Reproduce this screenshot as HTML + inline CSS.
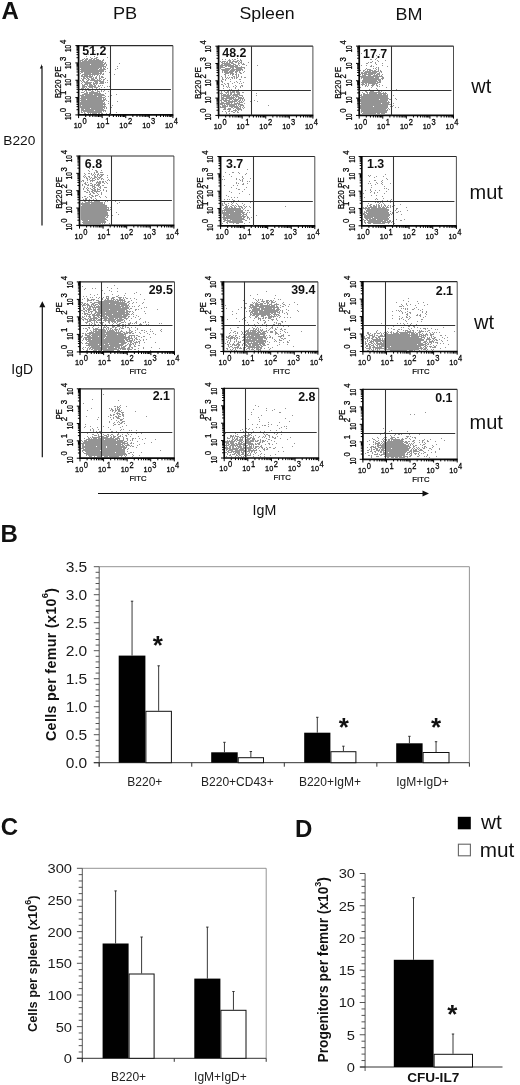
<!DOCTYPE html><html><head><meta charset="utf-8"><title>Figure</title>
<style>html,body{margin:0;padding:0;background:#fff}svg{display:block;opacity:0.999;will-change:transform}text{font-family:"Liberation Sans",sans-serif}</style></head><body>
<svg width="520" height="1085" viewBox="0 0 520 1085">
<defs><filter id="bl" x="-5%" y="-5%" width="110%" height="110%"><feGaussianBlur stdDeviation="0.42"/></filter></defs>
<rect width="520" height="1085" fill="#fff"/>
<text x="1.5" y="19" font-size="24" font-weight="bold" text-anchor="start" fill="#111" >A</text>
<text x="0.5" y="542" font-size="24" font-weight="bold" text-anchor="start" fill="#111" >B</text>
<text x="0.8" y="835" font-size="24" font-weight="bold" text-anchor="start" fill="#111" >C</text>
<text x="295" y="836.8" font-size="24" font-weight="bold" text-anchor="start" fill="#111" >D</text>
<g transform="translate(112.9,18.7) scale(1.05,1)"><text font-size="17.3" fill="#111">PB</text></g>
<g transform="translate(239.5,18.7) scale(1.025,1)"><text font-size="17.3" fill="#111">Spleen</text></g>
<g transform="translate(395.6,20.2) scale(1.04,1)"><text font-size="17.3" fill="#111">BM</text></g>
<text x="471.3" y="92.8" font-size="20" font-weight="normal" text-anchor="start" fill="#111" >wt</text>
<text x="469.5" y="199.2" font-size="20" font-weight="normal" text-anchor="start" fill="#111" >mut</text>
<text x="474" y="328.5" font-size="20" font-weight="normal" text-anchor="start" fill="#111" >wt</text>
<text x="469.5" y="428.5" font-size="20" font-weight="normal" text-anchor="start" fill="#111" >mut</text>
<path d="M42 66V225.4" stroke="#111" stroke-width="1.2"/><path d="M42 64l-2.2 4.5h2.2z" fill="#111"/>
<text x="3.3" y="144.7" font-size="13.7" font-weight="normal" text-anchor="start" fill="#111" >B220</text>
<path d="M42.3 304V457.3" stroke="#111" stroke-width="1.2"/><path d="M42.3 301.2l-3 6h6z" fill="#111"/>
<text x="11.3" y="373.8" font-size="13.9" font-weight="normal" text-anchor="start" fill="#111" >IgD</text>
<path d="M98 493.5H424" stroke="#111" stroke-width="1.2"/><path d="M429 493.5l-6.5-3v6z" fill="#111"/>
<text x="252.6" y="514.5" font-size="14.2" font-weight="normal" text-anchor="start" fill="#111" >IgM</text>
<g>
<g transform="translate(79,46)" filter="url(#bl)"><path d="M10 2h1M15 4h1M13 7h1M21 7h1M9 8h1M18 9h1M7 10h1M15 10h1M11 11h1M17 11h2M28 11h1M5 12h1M7 12h2M12 12h2M15 12h3M31 12h1M3 13h2M6 13h3M10 13h3M14 13h2M17 13h3M24 13h1M1 14h3M5 14h3M9 14h13M23 14h2M1 15h1M3 15h21M1 16h24M26 16h1M1 17h23M25 17h2M40 17h1M1 18h10M12 18h14M27 18h1M1 19h24M27 19h1M1 20h26M38 20h1M1 21h22M24 21h1M26 21h1M2 22h18M21 22h2M24 22h2M28 22h1M38 22h1M1 23h18M20 23h7M36 23h1M2 24h23M1 25h24M26 25h1M2 26h2M5 26h15M21 26h2M30 26h1M1 27h1M5 27h7M13 27h10M24 27h1M3 28h17M21 28h1M23 28h2M35 28h1M2 29h2M5 29h4M10 29h2M13 29h1M15 29h1M18 29h1M20 29h1M31 29h1M2 30h12M17 30h1M20 30h1M22 30h2M4 31h2M7 31h2M10 31h3M14 31h1M16 31h2M20 31h1M22 31h3M2 32h1M4 32h3M8 32h2M12 32h3M16 32h2M20 32h2M26 32h1M3 33h2M7 33h1M9 33h2M12 33h4M18 33h1M20 33h1M22 33h1M24 33h2M1 34h1M3 34h2M8 34h2M11 34h11M24 34h1M28 34h1M2 35h1M4 35h2M7 35h2M15 35h4M20 35h5M3 36h1M5 36h8M14 36h1M16 36h3M21 36h4M26 36h1M28 36h1M2 37h1M6 37h6M14 37h5M20 37h5M3 38h1M5 38h4M10 38h3M14 38h2M17 38h1M3 39h3M8 39h1M10 39h4M15 39h2M19 39h1M21 39h1M23 39h1M3 40h5M9 40h8M19 40h2M28 40h1M30 40h1M3 41h3M7 41h1M10 41h4M15 41h4M22 41h1M25 41h1M2 42h3M6 42h1M8 42h2M13 42h1M17 42h1M20 42h1M5 43h4M10 43h1M12 43h1M15 43h2M3 44h1M6 44h2M9 44h3M13 44h1M16 44h1M18 44h1M22 44h1M25 44h1M5 45h1M7 45h1M12 45h3M18 45h3M22 45h1M24 45h1M29 45h1M2 46h3M7 46h2M10 46h9M20 46h1M5 47h4M10 47h12M26 47h1M3 48h11M15 48h10M37 48h1M1 49h4M6 49h20M32 49h1M2 50h16M19 50h4M26 50h1M29 50h1M2 51h24M1 52h22M24 52h1M26 52h1M2 53h5M8 53h15M24 53h3M1 54h25M27 54h1M2 55h23M29 55h1M38 55h1M1 56h23M25 56h1M1 57h25M29 57h1M1 58h26M1 59h1M3 59h21M25 59h1M33 59h1M1 60h26M1 61h25M27 61h1M32 61h1M2 62h9M12 62h12M25 62h1M27 62h1M2 63h3M6 63h19M2 64h13M16 64h11M2 65h1M4 65h19M24 65h1M26 65h1M31 65h1M2 66h2M5 66h1M8 66h15M37 66h1M5 67h2M9 67h1M11 67h1M13 67h5M19 67h2M22 67h2M27 67h1M30 67h1" stroke="#949494" stroke-width="1" fill="none" transform="translate(0,0.5)"/></g>
<path d="M78.6 45.6H172.9" stroke="#2a2a2a" stroke-width="1.2" fill="none"/>
<path d="M172.9 45.6V114.9" stroke="#3a3a3a" stroke-width="0.9" fill="none"/>
<path d="M78.6 45.0V114.9H173.3" stroke="#0a0a0a" stroke-width="1.7" fill="none"/>
<path d="M110.5 45.6V114.9M78.6 89.5H170.9" stroke="#333" stroke-width="1.05" fill="none"/>
<path d="M78.60 114.9v3.2M85.70 114.9v2.1M89.85 114.9v2.1M92.79 114.9v2.1M95.08 114.9v2.1M96.94 114.9v2.1M98.52 114.9v2.1M99.89 114.9v2.1M101.10 114.9v2.1M102.17 114.9v3.2M109.27 114.9v2.1M113.42 114.9v2.1M116.37 114.9v2.1M118.65 114.9v2.1M120.52 114.9v2.1M122.10 114.9v2.1M123.47 114.9v2.1M124.67 114.9v2.1M125.75 114.9v3.2M132.85 114.9v2.1M137.00 114.9v2.1M139.94 114.9v2.1M142.23 114.9v2.1M144.09 114.9v2.1M145.67 114.9v2.1M147.04 114.9v2.1M148.25 114.9v2.1M149.32 114.9v3.2M156.42 114.9v2.1M160.57 114.9v2.1M163.52 114.9v2.1M165.80 114.9v2.1M167.67 114.9v2.1M169.25 114.9v2.1M170.62 114.9v2.1M171.82 114.9v2.1M172.90 114.9v3.2M78.6 114.90h-3.2M78.6 109.68h-2.1M78.6 106.63h-2.1M78.6 104.47h-2.1M78.6 102.79h-2.1M78.6 101.42h-2.1M78.6 100.26h-2.1M78.6 99.25h-2.1M78.6 98.37h-2.1M78.6 97.58h-3.2M78.6 92.36h-2.1M78.6 89.31h-2.1M78.6 87.14h-2.1M78.6 85.47h-2.1M78.6 84.09h-2.1M78.6 82.93h-2.1M78.6 81.93h-2.1M78.6 81.04h-2.1M78.6 80.25h-3.2M78.6 75.03h-2.1M78.6 71.98h-2.1M78.6 69.82h-2.1M78.6 68.14h-2.1M78.6 66.77h-2.1M78.6 65.61h-2.1M78.6 64.60h-2.1M78.6 63.72h-2.1M78.6 62.92h-3.2M78.6 57.71h-2.1M78.6 54.66h-2.1M78.6 52.49h-2.1M78.6 50.82h-2.1M78.6 49.44h-2.1M78.6 48.28h-2.1M78.6 47.28h-2.1M78.6 46.39h-2.1M78.6 45.60h-3.2" stroke="#000" stroke-width="1" fill="none"/>
<g transform="translate(73.70,128.20) scale(0.92,1)"><text font-size="8" fill="#000" stroke="#000" stroke-width="0.25">10<tspan dy="-3.9" dx="0.6" font-size="8.2">0</tspan></text></g>
<g transform="translate(96.52,128.20) scale(0.92,1)"><text font-size="8" fill="#000" stroke="#000" stroke-width="0.25">10<tspan dy="-3.9" dx="0.6" font-size="8.2">1</tspan></text></g>
<g transform="translate(119.35,128.20) scale(0.92,1)"><text font-size="8" fill="#000" stroke="#000" stroke-width="0.25">10<tspan dy="-3.9" dx="0.6" font-size="8.2">2</tspan></text></g>
<g transform="translate(142.18,128.20) scale(0.92,1)"><text font-size="8" fill="#000" stroke="#000" stroke-width="0.25">10<tspan dy="-3.9" dx="0.6" font-size="8.2">3</tspan></text></g>
<g transform="translate(165.00,128.20) scale(0.92,1)"><text font-size="8" fill="#000" stroke="#000" stroke-width="0.25">10<tspan dy="-3.9" dx="0.6" font-size="8.2">4</tspan></text></g>
<g transform="translate(71.40,120.10) rotate(-90)"><text font-size="8.8" fill="#000" stroke="#000" stroke-width="0.25" transform="scale(0.72,1)">10</text><text x="8.4" y="-5.6" font-size="8.2" fill="#000" stroke="#000" stroke-width="0.25" transform="scale(0.95,1)">0</text></g>
<g transform="translate(71.40,103.05) rotate(-90)"><text font-size="8.8" fill="#000" stroke="#000" stroke-width="0.25" transform="scale(0.72,1)">10</text><text x="8.4" y="-5.6" font-size="8.2" fill="#000" stroke="#000" stroke-width="0.25" transform="scale(0.95,1)">1</text></g>
<g transform="translate(71.40,86.00) rotate(-90)"><text font-size="8.8" fill="#000" stroke="#000" stroke-width="0.25" transform="scale(0.72,1)">10</text><text x="8.4" y="-5.6" font-size="8.2" fill="#000" stroke="#000" stroke-width="0.25" transform="scale(0.95,1)">2</text></g>
<g transform="translate(71.40,68.95) rotate(-90)"><text font-size="8.8" fill="#000" stroke="#000" stroke-width="0.25" transform="scale(0.72,1)">10</text><text x="8.4" y="-5.6" font-size="8.2" fill="#000" stroke="#000" stroke-width="0.25" transform="scale(0.95,1)">3</text></g>
<g transform="translate(71.40,51.90) rotate(-90)"><text font-size="8.8" fill="#000" stroke="#000" stroke-width="0.25" transform="scale(0.72,1)">10</text><text x="8.4" y="-5.6" font-size="8.2" fill="#000" stroke="#000" stroke-width="0.25" transform="scale(0.95,1)">4</text></g>
<g transform="translate(60.80,98.30) rotate(-90) scale(0.9,1)"><text font-size="9" fill="#000" stroke="#000" stroke-width="0.2">B220 PE</text></g>
<text x="82.3" y="55" font-size="12.4" font-weight="bold" fill="#111">51.2</text>
</g>
<g>
<g transform="translate(219,46)" filter="url(#bl)"><path d="M18 12h1M3 13h1M6 13h1M10 13h1M13 13h1M15 13h2M21 13h1M9 14h3M14 14h1M18 14h2M21 14h2M1 15h1M3 15h4M8 15h1M10 15h2M13 15h6M20 15h1M22 15h1M2 16h2M5 16h1M7 16h2M10 16h4M16 16h2M19 16h1M21 16h2M29 16h1M3 17h8M12 17h3M19 17h2M22 17h1M24 17h1M2 18h2M5 18h7M14 18h3M19 18h1M23 18h3M1 19h14M16 19h3M20 19h1M27 19h1M38 19h1M1 20h3M6 20h2M9 20h10M22 20h1M1 21h5M11 21h4M16 21h10M1 22h1M6 22h6M13 22h2M17 22h6M25 22h1M2 23h9M12 23h12M3 24h7M11 24h5M17 24h5M23 24h1M3 25h1M5 25h4M10 25h5M16 25h3M20 25h1M25 25h1M3 26h1M5 26h9M16 26h2M20 26h2M24 26h1M6 27h4M11 27h4M17 27h1M21 27h2M5 28h2M11 28h1M13 28h2M16 28h2M19 28h1M6 29h1M9 29h1M13 29h1M17 29h1M19 29h1M2 30h1M6 30h1M14 30h2M17 30h1M19 30h1M22 30h1M3 31h1M6 31h1M8 31h1M10 31h1M12 31h2M15 31h1M17 31h2M22 31h1M25 31h2M32 31h1M3 32h1M7 32h1M9 32h1M13 32h1M15 32h1M17 32h1M3 33h2M6 33h1M11 33h1M20 33h2M2 34h1M6 34h1M2 35h2M11 35h1M17 35h1M21 35h1M3 36h1M15 36h1M18 36h1M24 36h1M5 37h1M8 37h2M13 37h1M20 37h1M22 37h1M2 38h2M6 38h1M9 38h1M4 39h1M9 39h1M16 39h1M22 39h2M4 40h1M7 40h1M9 40h1M14 40h1M17 40h1M21 40h1M23 40h1M8 41h1M10 41h1M16 41h1M21 41h1M4 42h1M16 42h1M10 43h1M12 43h1M19 43h1M3 44h1M11 44h3M20 44h2M2 45h1M5 45h1M8 45h2M11 45h1M13 45h3M17 45h3M2 46h1M6 46h4M11 46h5M17 46h4M23 46h2M1 47h3M7 47h1M9 47h1M11 47h2M15 47h1M18 47h3M37 47h1M2 48h1M4 48h3M8 48h2M11 48h2M14 48h7M2 49h10M13 49h6M20 49h4M37 49h1M2 50h1M4 50h7M12 50h1M14 50h1M16 50h4M23 50h1M2 51h3M7 51h9M17 51h1M19 51h4M24 51h1M2 52h13M16 52h1M19 52h6M2 53h3M6 53h2M10 53h3M14 53h6M21 53h1M23 53h1M25 53h1M1 54h2M4 54h7M13 54h1M15 54h4M20 54h2M23 54h1M25 54h1M35 54h1M2 55h1M5 55h3M9 55h9M19 55h2M22 55h1M24 55h1M31 55h1M38 55h1M2 56h3M7 56h7M15 56h1M18 56h1M20 56h4M1 57h10M12 57h1M15 57h6M25 57h1M1 58h3M5 58h1M7 58h11M19 58h5M3 59h4M8 59h1M10 59h6M17 59h1M19 59h1M21 59h4M49 59h1M1 60h1M3 60h6M10 60h9M20 60h2M24 60h1M1 61h6M12 61h2M15 61h5M21 61h1M23 61h1M25 61h1M5 62h2M9 62h3M14 62h1M17 62h5M24 62h1M4 63h3M8 63h4M16 63h1M18 63h5M10 64h1M14 64h4M19 64h1M22 64h1M3 65h1M6 65h1M9 65h2M12 65h2M16 65h1M18 65h1M7 66h1M14 66h2M18 66h2M7 67h1M10 67h1" stroke="#949494" stroke-width="1" fill="none" transform="translate(0,0.5)"/></g>
<path d="M218.6 46.2H312.9" stroke="#2a2a2a" stroke-width="1.2" fill="none"/>
<path d="M312.9 46.2V115.4" stroke="#3a3a3a" stroke-width="0.9" fill="none"/>
<path d="M218.6 45.6V115.4H313.29999999999995" stroke="#0a0a0a" stroke-width="1.7" fill="none"/>
<path d="M251.5 46.2V115.4M218.6 90.5H310.9" stroke="#333" stroke-width="1.05" fill="none"/>
<path d="M218.60 115.4v3.2M225.70 115.4v2.1M229.85 115.4v2.1M232.79 115.4v2.1M235.08 115.4v2.1M236.94 115.4v2.1M238.52 115.4v2.1M239.89 115.4v2.1M241.10 115.4v2.1M242.17 115.4v3.2M249.27 115.4v2.1M253.42 115.4v2.1M256.37 115.4v2.1M258.65 115.4v2.1M260.52 115.4v2.1M262.10 115.4v2.1M263.47 115.4v2.1M264.67 115.4v2.1M265.75 115.4v3.2M272.85 115.4v2.1M277.00 115.4v2.1M279.94 115.4v2.1M282.23 115.4v2.1M284.09 115.4v2.1M285.67 115.4v2.1M287.04 115.4v2.1M288.25 115.4v2.1M289.32 115.4v3.2M296.42 115.4v2.1M300.57 115.4v2.1M303.52 115.4v2.1M305.80 115.4v2.1M307.67 115.4v2.1M309.25 115.4v2.1M310.62 115.4v2.1M311.82 115.4v2.1M312.90 115.4v3.2M218.6 115.40h-3.2M218.6 110.19h-2.1M218.6 107.15h-2.1M218.6 104.98h-2.1M218.6 103.31h-2.1M218.6 101.94h-2.1M218.6 100.78h-2.1M218.6 99.78h-2.1M218.6 98.89h-2.1M218.6 98.10h-3.2M218.6 92.89h-2.1M218.6 89.85h-2.1M218.6 87.68h-2.1M218.6 86.01h-2.1M218.6 84.64h-2.1M218.6 83.48h-2.1M218.6 82.48h-2.1M218.6 81.59h-2.1M218.6 80.80h-3.2M218.6 75.59h-2.1M218.6 72.55h-2.1M218.6 70.38h-2.1M218.6 68.71h-2.1M218.6 67.34h-2.1M218.6 66.18h-2.1M218.6 65.18h-2.1M218.6 64.29h-2.1M218.6 63.50h-3.2M218.6 58.29h-2.1M218.6 55.25h-2.1M218.6 53.08h-2.1M218.6 51.41h-2.1M218.6 50.04h-2.1M218.6 48.88h-2.1M218.6 47.88h-2.1M218.6 46.99h-2.1M218.6 46.20h-3.2" stroke="#000" stroke-width="1" fill="none"/>
<g transform="translate(213.70,128.70) scale(0.92,1)"><text font-size="8" fill="#000" stroke="#000" stroke-width="0.25">10<tspan dy="-3.9" dx="0.6" font-size="8.2">0</tspan></text></g>
<g transform="translate(236.52,128.70) scale(0.92,1)"><text font-size="8" fill="#000" stroke="#000" stroke-width="0.25">10<tspan dy="-3.9" dx="0.6" font-size="8.2">1</tspan></text></g>
<g transform="translate(259.35,128.70) scale(0.92,1)"><text font-size="8" fill="#000" stroke="#000" stroke-width="0.25">10<tspan dy="-3.9" dx="0.6" font-size="8.2">2</tspan></text></g>
<g transform="translate(282.17,128.70) scale(0.92,1)"><text font-size="8" fill="#000" stroke="#000" stroke-width="0.25">10<tspan dy="-3.9" dx="0.6" font-size="8.2">3</tspan></text></g>
<g transform="translate(305.00,128.70) scale(0.92,1)"><text font-size="8" fill="#000" stroke="#000" stroke-width="0.25">10<tspan dy="-3.9" dx="0.6" font-size="8.2">4</tspan></text></g>
<g transform="translate(211.40,120.60) rotate(-90)"><text font-size="8.8" fill="#000" stroke="#000" stroke-width="0.25" transform="scale(0.72,1)">10</text><text x="8.4" y="-5.6" font-size="8.2" fill="#000" stroke="#000" stroke-width="0.25" transform="scale(0.95,1)">0</text></g>
<g transform="translate(211.40,103.58) rotate(-90)"><text font-size="8.8" fill="#000" stroke="#000" stroke-width="0.25" transform="scale(0.72,1)">10</text><text x="8.4" y="-5.6" font-size="8.2" fill="#000" stroke="#000" stroke-width="0.25" transform="scale(0.95,1)">1</text></g>
<g transform="translate(211.40,86.55) rotate(-90)"><text font-size="8.8" fill="#000" stroke="#000" stroke-width="0.25" transform="scale(0.72,1)">10</text><text x="8.4" y="-5.6" font-size="8.2" fill="#000" stroke="#000" stroke-width="0.25" transform="scale(0.95,1)">2</text></g>
<g transform="translate(211.40,69.53) rotate(-90)"><text font-size="8.8" fill="#000" stroke="#000" stroke-width="0.25" transform="scale(0.72,1)">10</text><text x="8.4" y="-5.6" font-size="8.2" fill="#000" stroke="#000" stroke-width="0.25" transform="scale(0.95,1)">3</text></g>
<g transform="translate(211.40,52.50) rotate(-90)"><text font-size="8.8" fill="#000" stroke="#000" stroke-width="0.25" transform="scale(0.72,1)">10</text><text x="8.4" y="-5.6" font-size="8.2" fill="#000" stroke="#000" stroke-width="0.25" transform="scale(0.95,1)">4</text></g>
<g transform="translate(200.80,98.90) rotate(-90) scale(0.9,1)"><text font-size="9" fill="#000" stroke="#000" stroke-width="0.2">B220 PE</text></g>
<text x="222.3" y="57.2" font-size="12.4" font-weight="bold" fill="#111">48.2</text>
</g>
<g>
<g transform="translate(359,46)" filter="url(#bl)"><path d="M2 7h1M20 8h1M17 9h1M5 10h1M24 11h1M17 12h1M11 13h2M16 13h1M18 14h1M26 14h1M13 15h1M19 15h1M9 16h1M11 16h2M16 16h1M7 17h2M16 17h1M23 17h1M17 18h1M2 19h1M7 19h1M12 19h1M23 19h1M11 20h2M14 20h1M28 20h1M17 21h1M19 21h1M7 22h1M14 22h1M16 22h1M19 22h1M6 23h1M8 23h4M17 23h1M19 23h1M1 24h1M4 24h2M8 24h1M10 24h4M15 24h2M19 24h1M21 24h1M4 25h1M6 25h6M13 25h7M21 25h2M2 26h2M5 26h13M20 26h1M22 26h1M2 27h6M9 27h8M18 27h3M1 28h1M3 28h1M5 28h9M15 28h1M17 28h4M23 28h1M3 29h4M9 29h3M14 29h5M20 29h1M22 29h1M1 30h23M2 31h13M16 31h4M23 31h2M2 32h1M4 32h16M22 32h3M4 33h18M23 33h1M3 34h15M19 34h3M3 35h16M20 35h2M2 36h15M18 36h4M3 37h2M6 37h2M9 37h10M2 38h4M7 38h1M9 38h1M13 38h3M17 38h1M20 38h1M3 39h1M6 39h2M9 39h1M12 39h3M17 39h2M23 39h1M6 40h1M8 40h1M13 40h1M18 40h1M20 40h1M1 41h1M12 41h1M27 41h1M17 42h1M10 43h1M18 43h1M37 43h1M10 44h4M18 44h2M22 44h1M6 45h2M11 45h4M19 45h2M22 45h1M3 46h1M7 46h2M10 46h12M24 46h1M26 46h1M4 47h2M8 47h1M10 47h8M19 47h9M2 48h1M4 48h19M24 48h3M28 48h1M1 49h2M4 49h25M34 49h1M2 50h27M1 51h28M2 52h28M32 52h1M36 52h1M1 53h19M21 53h8M30 53h2M37 53h1M1 54h28M1 55h27M29 55h1M2 56h29M1 57h21M23 57h7M34 57h1M2 58h30M1 59h28M34 59h1M1 60h13M15 60h14M31 60h1M33 60h1M1 61h28M36 61h1M39 61h1M1 62h27M29 62h1M2 63h25M28 63h1M30 63h1M2 64h27M2 65h26M2 66h1M4 66h24M3 67h14M18 67h3M22 67h4" stroke="#949494" stroke-width="1" fill="none" transform="translate(0,0.5)"/></g>
<path d="M359.2 46.1H453.5" stroke="#2a2a2a" stroke-width="1.2" fill="none"/>
<path d="M453.5 46.1V115.4" stroke="#3a3a3a" stroke-width="0.9" fill="none"/>
<path d="M359.2 45.5V115.4H453.9" stroke="#0a0a0a" stroke-width="1.7" fill="none"/>
<path d="M391.5 46.1V115.4M359.2 90.5H451.5" stroke="#333" stroke-width="1.05" fill="none"/>
<path d="M359.20 115.4v3.2M366.30 115.4v2.1M370.45 115.4v2.1M373.39 115.4v2.1M375.68 115.4v2.1M377.54 115.4v2.1M379.12 115.4v2.1M380.49 115.4v2.1M381.70 115.4v2.1M382.77 115.4v3.2M389.87 115.4v2.1M394.02 115.4v2.1M396.97 115.4v2.1M399.25 115.4v2.1M401.12 115.4v2.1M402.70 115.4v2.1M404.07 115.4v2.1M405.27 115.4v2.1M406.35 115.4v3.2M413.45 115.4v2.1M417.60 115.4v2.1M420.54 115.4v2.1M422.83 115.4v2.1M424.69 115.4v2.1M426.27 115.4v2.1M427.64 115.4v2.1M428.85 115.4v2.1M429.93 115.4v3.2M437.02 115.4v2.1M441.17 115.4v2.1M444.12 115.4v2.1M446.40 115.4v2.1M448.27 115.4v2.1M449.85 115.4v2.1M451.22 115.4v2.1M452.42 115.4v2.1M453.50 115.4v3.2M359.2 115.40h-3.2M359.2 110.18h-2.1M359.2 107.13h-2.1M359.2 104.97h-2.1M359.2 103.29h-2.1M359.2 101.92h-2.1M359.2 100.76h-2.1M359.2 99.75h-2.1M359.2 98.87h-2.1M359.2 98.08h-3.2M359.2 92.86h-2.1M359.2 89.81h-2.1M359.2 87.64h-2.1M359.2 85.97h-2.1M359.2 84.59h-2.1M359.2 83.43h-2.1M359.2 82.43h-2.1M359.2 81.54h-2.1M359.2 80.75h-3.2M359.2 75.53h-2.1M359.2 72.48h-2.1M359.2 70.32h-2.1M359.2 68.64h-2.1M359.2 67.27h-2.1M359.2 66.11h-2.1M359.2 65.10h-2.1M359.2 64.22h-2.1M359.2 63.42h-3.2M359.2 58.21h-2.1M359.2 55.16h-2.1M359.2 52.99h-2.1M359.2 51.32h-2.1M359.2 49.94h-2.1M359.2 48.78h-2.1M359.2 47.78h-2.1M359.2 46.89h-2.1M359.2 46.10h-3.2" stroke="#000" stroke-width="1" fill="none"/>
<g transform="translate(354.30,128.70) scale(0.92,1)"><text font-size="8" fill="#000" stroke="#000" stroke-width="0.25">10<tspan dy="-3.9" dx="0.6" font-size="8.2">0</tspan></text></g>
<g transform="translate(377.12,128.70) scale(0.92,1)"><text font-size="8" fill="#000" stroke="#000" stroke-width="0.25">10<tspan dy="-3.9" dx="0.6" font-size="8.2">1</tspan></text></g>
<g transform="translate(399.95,128.70) scale(0.92,1)"><text font-size="8" fill="#000" stroke="#000" stroke-width="0.25">10<tspan dy="-3.9" dx="0.6" font-size="8.2">2</tspan></text></g>
<g transform="translate(422.78,128.70) scale(0.92,1)"><text font-size="8" fill="#000" stroke="#000" stroke-width="0.25">10<tspan dy="-3.9" dx="0.6" font-size="8.2">3</tspan></text></g>
<g transform="translate(445.60,128.70) scale(0.92,1)"><text font-size="8" fill="#000" stroke="#000" stroke-width="0.25">10<tspan dy="-3.9" dx="0.6" font-size="8.2">4</tspan></text></g>
<g transform="translate(352.00,120.60) rotate(-90)"><text font-size="8.8" fill="#000" stroke="#000" stroke-width="0.25" transform="scale(0.72,1)">10</text><text x="8.4" y="-5.6" font-size="8.2" fill="#000" stroke="#000" stroke-width="0.25" transform="scale(0.95,1)">0</text></g>
<g transform="translate(352.00,103.55) rotate(-90)"><text font-size="8.8" fill="#000" stroke="#000" stroke-width="0.25" transform="scale(0.72,1)">10</text><text x="8.4" y="-5.6" font-size="8.2" fill="#000" stroke="#000" stroke-width="0.25" transform="scale(0.95,1)">1</text></g>
<g transform="translate(352.00,86.50) rotate(-90)"><text font-size="8.8" fill="#000" stroke="#000" stroke-width="0.25" transform="scale(0.72,1)">10</text><text x="8.4" y="-5.6" font-size="8.2" fill="#000" stroke="#000" stroke-width="0.25" transform="scale(0.95,1)">2</text></g>
<g transform="translate(352.00,69.45) rotate(-90)"><text font-size="8.8" fill="#000" stroke="#000" stroke-width="0.25" transform="scale(0.72,1)">10</text><text x="8.4" y="-5.6" font-size="8.2" fill="#000" stroke="#000" stroke-width="0.25" transform="scale(0.95,1)">3</text></g>
<g transform="translate(352.00,52.40) rotate(-90)"><text font-size="8.8" fill="#000" stroke="#000" stroke-width="0.25" transform="scale(0.72,1)">10</text><text x="8.4" y="-5.6" font-size="8.2" fill="#000" stroke="#000" stroke-width="0.25" transform="scale(0.95,1)">4</text></g>
<g transform="translate(341.40,98.80) rotate(-90) scale(0.9,1)"><text font-size="9" fill="#000" stroke="#000" stroke-width="0.2">B220 PE</text></g>
<text x="363" y="57.6" font-size="12.4" font-weight="bold" fill="#111">17.7</text>
</g>
<g>
<g transform="translate(80,156)" filter="url(#bl)"><path d="M9 12h1M12 13h1M8 14h1M15 14h2M21 14h1M9 15h1M16 15h2M14 16h1M16 16h2M20 16h3M4 17h1M8 17h2M11 17h1M14 17h1M18 17h1M5 18h1M11 18h1M13 18h1M15 18h1M17 18h2M20 18h4M4 19h1M12 19h1M14 19h1M17 19h1M19 19h1M21 19h2M27 19h1M3 20h1M5 20h1M8 20h2M14 20h2M17 20h1M20 20h2M4 21h1M6 21h1M9 21h1M11 21h1M14 21h3M18 21h3M27 21h1M6 22h2M10 22h1M12 22h3M17 22h1M19 22h1M21 22h2M7 23h1M9 23h1M12 23h1M15 23h1M17 23h2M21 23h1M23 23h1M28 23h1M2 24h2M7 24h1M10 24h5M27 24h1M29 24h1M1 25h1M3 25h1M10 25h1M12 25h1M17 25h1M19 25h2M22 25h2M25 25h1M5 26h1M7 26h1M16 26h5M22 26h2M26 26h1M4 27h2M10 27h2M16 27h1M18 27h3M24 27h1M27 27h1M2 28h1M5 28h2M8 28h1M12 28h1M14 28h2M17 28h3M31 28h1M2 29h1M7 29h2M10 29h3M14 29h1M16 29h4M22 29h2M4 30h1M12 30h3M18 30h1M20 30h1M4 31h1M7 31h1M12 31h1M14 31h2M19 31h2M24 31h3M3 32h1M6 32h1M8 32h1M10 32h1M13 32h2M17 32h1M20 32h1M3 33h1M7 33h1M11 33h2M14 33h2M17 33h3M23 33h1M7 34h2M12 34h4M17 34h1M20 34h1M23 34h1M26 34h1M4 35h2M9 35h1M11 35h2M14 35h6M26 35h1M6 36h2M9 36h1M12 36h2M16 36h1M21 36h1M10 37h1M13 37h2M17 37h1M21 37h1M9 38h2M18 38h1M21 38h1M11 39h2M15 39h3M4 40h2M9 40h1M12 40h2M15 40h1M19 40h1M25 40h1M2 41h1M7 41h1M10 41h2M20 41h1M26 41h1M5 42h2M11 42h1M15 42h1M3 43h1M5 43h2M9 43h1M13 43h1M16 43h1M7 44h1M10 44h1M15 44h4M29 44h1M4 45h2M8 45h2M11 45h1M14 45h6M25 45h1M27 45h1M35 45h1M2 46h1M5 46h18M24 46h1M39 46h1M1 47h9M11 47h12M24 47h1M37 47h1M1 48h24M2 49h25M1 50h26M1 51h28M30 51h1M1 52h26M28 52h1M1 53h28M30 53h1M1 54h29M1 55h26M1 56h27M36 56h1M1 57h27M1 58h27M38 58h1M1 59h28M32 59h1M1 60h25M27 60h1M1 61h24M26 61h2M1 62h25M1 63h26M2 64h6M9 64h16M27 64h1M3 65h23M2 66h24M3 67h18M22 67h1M24 67h1M29 67h1" stroke="#949494" stroke-width="1" fill="none" transform="translate(0,0.5)"/></g>
<path d="M79.5 156H173.9" stroke="#2a2a2a" stroke-width="1.2" fill="none"/>
<path d="M173.9 156V225.4" stroke="#3a3a3a" stroke-width="0.9" fill="none"/>
<path d="M79.5 155.4V225.4H174.3" stroke="#0a0a0a" stroke-width="1.7" fill="none"/>
<path d="M111.5 156V225.4M79.5 200.5H171.9" stroke="#333" stroke-width="1.05" fill="none"/>
<path d="M79.50 225.4v3.2M86.60 225.4v2.1M90.76 225.4v2.1M93.71 225.4v2.1M96.00 225.4v2.1M97.86 225.4v2.1M99.44 225.4v2.1M100.81 225.4v2.1M102.02 225.4v2.1M103.10 225.4v3.2M110.20 225.4v2.1M114.36 225.4v2.1M117.31 225.4v2.1M119.60 225.4v2.1M121.46 225.4v2.1M123.04 225.4v2.1M124.41 225.4v2.1M125.62 225.4v2.1M126.70 225.4v3.2M133.80 225.4v2.1M137.96 225.4v2.1M140.91 225.4v2.1M143.20 225.4v2.1M145.06 225.4v2.1M146.64 225.4v2.1M148.01 225.4v2.1M149.22 225.4v2.1M150.30 225.4v3.2M157.40 225.4v2.1M161.56 225.4v2.1M164.51 225.4v2.1M166.80 225.4v2.1M168.66 225.4v2.1M170.24 225.4v2.1M171.61 225.4v2.1M172.82 225.4v2.1M173.90 225.4v3.2M79.5 225.40h-3.2M79.5 220.18h-2.1M79.5 217.12h-2.1M79.5 214.95h-2.1M79.5 213.27h-2.1M79.5 211.90h-2.1M79.5 210.74h-2.1M79.5 209.73h-2.1M79.5 208.84h-2.1M79.5 208.05h-3.2M79.5 202.83h-2.1M79.5 199.77h-2.1M79.5 197.60h-2.1M79.5 195.92h-2.1M79.5 194.55h-2.1M79.5 193.39h-2.1M79.5 192.38h-2.1M79.5 191.49h-2.1M79.5 190.70h-3.2M79.5 185.48h-2.1M79.5 182.42h-2.1M79.5 180.25h-2.1M79.5 178.57h-2.1M79.5 177.20h-2.1M79.5 176.04h-2.1M79.5 175.03h-2.1M79.5 174.14h-2.1M79.5 173.35h-3.2M79.5 168.13h-2.1M79.5 165.07h-2.1M79.5 162.90h-2.1M79.5 161.22h-2.1M79.5 159.85h-2.1M79.5 158.69h-2.1M79.5 157.68h-2.1M79.5 156.79h-2.1M79.5 156.00h-3.2" stroke="#000" stroke-width="1" fill="none"/>
<g transform="translate(74.60,238.70) scale(0.92,1)"><text font-size="8" fill="#000" stroke="#000" stroke-width="0.25">10<tspan dy="-3.9" dx="0.6" font-size="8.2">0</tspan></text></g>
<g transform="translate(97.45,238.70) scale(0.92,1)"><text font-size="8" fill="#000" stroke="#000" stroke-width="0.25">10<tspan dy="-3.9" dx="0.6" font-size="8.2">1</tspan></text></g>
<g transform="translate(120.30,238.70) scale(0.92,1)"><text font-size="8" fill="#000" stroke="#000" stroke-width="0.25">10<tspan dy="-3.9" dx="0.6" font-size="8.2">2</tspan></text></g>
<g transform="translate(143.15,238.70) scale(0.92,1)"><text font-size="8" fill="#000" stroke="#000" stroke-width="0.25">10<tspan dy="-3.9" dx="0.6" font-size="8.2">3</tspan></text></g>
<g transform="translate(166.00,238.70) scale(0.92,1)"><text font-size="8" fill="#000" stroke="#000" stroke-width="0.25">10<tspan dy="-3.9" dx="0.6" font-size="8.2">4</tspan></text></g>
<g transform="translate(72.30,230.60) rotate(-90)"><text font-size="8.8" fill="#000" stroke="#000" stroke-width="0.25" transform="scale(0.72,1)">10</text><text x="8.4" y="-5.6" font-size="8.2" fill="#000" stroke="#000" stroke-width="0.25" transform="scale(0.95,1)">0</text></g>
<g transform="translate(72.30,213.52) rotate(-90)"><text font-size="8.8" fill="#000" stroke="#000" stroke-width="0.25" transform="scale(0.72,1)">10</text><text x="8.4" y="-5.6" font-size="8.2" fill="#000" stroke="#000" stroke-width="0.25" transform="scale(0.95,1)">1</text></g>
<g transform="translate(72.30,196.45) rotate(-90)"><text font-size="8.8" fill="#000" stroke="#000" stroke-width="0.25" transform="scale(0.72,1)">10</text><text x="8.4" y="-5.6" font-size="8.2" fill="#000" stroke="#000" stroke-width="0.25" transform="scale(0.95,1)">2</text></g>
<g transform="translate(72.30,179.38) rotate(-90)"><text font-size="8.8" fill="#000" stroke="#000" stroke-width="0.25" transform="scale(0.72,1)">10</text><text x="8.4" y="-5.6" font-size="8.2" fill="#000" stroke="#000" stroke-width="0.25" transform="scale(0.95,1)">3</text></g>
<g transform="translate(72.30,162.30) rotate(-90)"><text font-size="8.8" fill="#000" stroke="#000" stroke-width="0.25" transform="scale(0.72,1)">10</text><text x="8.4" y="-5.6" font-size="8.2" fill="#000" stroke="#000" stroke-width="0.25" transform="scale(0.95,1)">4</text></g>
<g transform="translate(61.70,208.70) rotate(-90) scale(0.9,1)"><text font-size="9" fill="#000" stroke="#000" stroke-width="0.2">B220 PE</text></g>
<text x="84.8" y="167.6" font-size="12.4" font-weight="bold" fill="#111">6.8</text>
</g>
<g>
<g transform="translate(221,156)" filter="url(#bl)"><path d="M26 13h1M4 16h1M11 16h2M17 16h1M18 17h1M25 17h1M8 18h1M24 18h1M2 20h1M10 20h1M21 20h1M21 21h1M15 22h1M22 22h1M29 22h1M1 23h1M3 23h1M15 23h1M18 23h1M21 23h1M19 24h1M21 24h1M21 25h1M26 25h1M28 25h1M15 26h1M15 27h1M17 27h1M22 27h1M26 27h1M21 28h2M3 29h1M12 29h1M16 29h1M10 31h1M25 31h1M15 32h1M17 33h2M23 33h1M8 35h1M21 35h1M10 36h1M18 37h1M28 38h1M5 39h1M7 40h1M10 41h1M13 41h1M16 41h1M3 43h1M6 43h1M8 43h1M11 43h1M12 44h2M17 44h1M6 45h1M12 45h1M3 46h1M10 46h1M12 46h1M29 46h1M1 47h1M3 47h1M7 47h1M11 47h1M15 47h1M21 47h1M1 48h1M4 48h2M10 48h1M16 48h1M23 48h1M1 49h2M5 49h1M7 49h1M11 49h2M14 49h1M17 49h1M22 49h1M4 50h3M9 50h2M13 50h1M15 50h1M17 50h4M23 50h1M25 50h1M28 50h1M64 50h1M3 51h4M8 51h1M10 51h2M13 51h2M18 51h1M20 51h2M24 51h1M29 51h1M2 52h1M4 52h16M21 52h1M23 52h1M3 53h17M22 53h1M1 54h21M24 54h1M26 54h2M1 55h1M3 55h1M5 55h8M14 55h8M32 55h1M1 56h23M26 56h1M28 56h1M1 57h19M21 57h2M25 57h1M2 58h6M9 58h12M22 58h4M2 59h18M21 59h2M25 59h1M35 59h1M2 60h2M5 60h20M26 60h1M1 61h20M22 61h2M26 61h2M30 61h1M2 62h21M26 62h1M28 62h1M32 62h1M2 63h3M6 63h1M9 63h15M28 63h1M3 64h7M11 64h10M24 64h2M2 65h2M6 65h16M5 66h2M8 66h14M28 66h1M1 67h1M6 67h1M12 67h1M15 67h3M23 67h1" stroke="#949494" stroke-width="1" fill="none" transform="translate(0,0.5)"/></g>
<path d="M220.6 156.5H314.8" stroke="#2a2a2a" stroke-width="1.2" fill="none"/>
<path d="M314.8 156.5V225.9" stroke="#3a3a3a" stroke-width="0.9" fill="none"/>
<path d="M220.6 155.9V225.9H315.2" stroke="#0a0a0a" stroke-width="1.7" fill="none"/>
<path d="M253.5 156.5V225.9M220.6 201.5H312.8" stroke="#333" stroke-width="1.05" fill="none"/>
<path d="M220.60 225.9v3.2M227.69 225.9v2.1M231.84 225.9v2.1M234.78 225.9v2.1M237.06 225.9v2.1M238.93 225.9v2.1M240.50 225.9v2.1M241.87 225.9v2.1M243.07 225.9v2.1M244.15 225.9v3.2M251.24 225.9v2.1M255.39 225.9v2.1M258.33 225.9v2.1M260.61 225.9v2.1M262.48 225.9v2.1M264.05 225.9v2.1M265.42 225.9v2.1M266.62 225.9v2.1M267.70 225.9v3.2M274.79 225.9v2.1M278.94 225.9v2.1M281.88 225.9v2.1M284.16 225.9v2.1M286.03 225.9v2.1M287.60 225.9v2.1M288.97 225.9v2.1M290.17 225.9v2.1M291.25 225.9v3.2M298.34 225.9v2.1M302.49 225.9v2.1M305.43 225.9v2.1M307.71 225.9v2.1M309.58 225.9v2.1M311.15 225.9v2.1M312.52 225.9v2.1M313.72 225.9v2.1M314.80 225.9v3.2M220.6 225.90h-3.2M220.6 220.68h-2.1M220.6 217.62h-2.1M220.6 215.45h-2.1M220.6 213.77h-2.1M220.6 212.40h-2.1M220.6 211.24h-2.1M220.6 210.23h-2.1M220.6 209.34h-2.1M220.6 208.55h-3.2M220.6 203.33h-2.1M220.6 200.27h-2.1M220.6 198.10h-2.1M220.6 196.42h-2.1M220.6 195.05h-2.1M220.6 193.89h-2.1M220.6 192.88h-2.1M220.6 191.99h-2.1M220.6 191.20h-3.2M220.6 185.98h-2.1M220.6 182.92h-2.1M220.6 180.75h-2.1M220.6 179.07h-2.1M220.6 177.70h-2.1M220.6 176.54h-2.1M220.6 175.53h-2.1M220.6 174.64h-2.1M220.6 173.85h-3.2M220.6 168.63h-2.1M220.6 165.57h-2.1M220.6 163.40h-2.1M220.6 161.72h-2.1M220.6 160.35h-2.1M220.6 159.19h-2.1M220.6 158.18h-2.1M220.6 157.29h-2.1M220.6 156.50h-3.2" stroke="#000" stroke-width="1" fill="none"/>
<g transform="translate(215.70,239.20) scale(0.92,1)"><text font-size="8" fill="#000" stroke="#000" stroke-width="0.25">10<tspan dy="-3.9" dx="0.6" font-size="8.2">0</tspan></text></g>
<g transform="translate(238.50,239.20) scale(0.92,1)"><text font-size="8" fill="#000" stroke="#000" stroke-width="0.25">10<tspan dy="-3.9" dx="0.6" font-size="8.2">1</tspan></text></g>
<g transform="translate(261.30,239.20) scale(0.92,1)"><text font-size="8" fill="#000" stroke="#000" stroke-width="0.25">10<tspan dy="-3.9" dx="0.6" font-size="8.2">2</tspan></text></g>
<g transform="translate(284.10,239.20) scale(0.92,1)"><text font-size="8" fill="#000" stroke="#000" stroke-width="0.25">10<tspan dy="-3.9" dx="0.6" font-size="8.2">3</tspan></text></g>
<g transform="translate(306.90,239.20) scale(0.92,1)"><text font-size="8" fill="#000" stroke="#000" stroke-width="0.25">10<tspan dy="-3.9" dx="0.6" font-size="8.2">4</tspan></text></g>
<g transform="translate(213.40,231.10) rotate(-90)"><text font-size="8.8" fill="#000" stroke="#000" stroke-width="0.25" transform="scale(0.72,1)">10</text><text x="8.4" y="-5.6" font-size="8.2" fill="#000" stroke="#000" stroke-width="0.25" transform="scale(0.95,1)">0</text></g>
<g transform="translate(213.40,214.02) rotate(-90)"><text font-size="8.8" fill="#000" stroke="#000" stroke-width="0.25" transform="scale(0.72,1)">10</text><text x="8.4" y="-5.6" font-size="8.2" fill="#000" stroke="#000" stroke-width="0.25" transform="scale(0.95,1)">1</text></g>
<g transform="translate(213.40,196.95) rotate(-90)"><text font-size="8.8" fill="#000" stroke="#000" stroke-width="0.25" transform="scale(0.72,1)">10</text><text x="8.4" y="-5.6" font-size="8.2" fill="#000" stroke="#000" stroke-width="0.25" transform="scale(0.95,1)">2</text></g>
<g transform="translate(213.40,179.88) rotate(-90)"><text font-size="8.8" fill="#000" stroke="#000" stroke-width="0.25" transform="scale(0.72,1)">10</text><text x="8.4" y="-5.6" font-size="8.2" fill="#000" stroke="#000" stroke-width="0.25" transform="scale(0.95,1)">3</text></g>
<g transform="translate(213.40,162.80) rotate(-90)"><text font-size="8.8" fill="#000" stroke="#000" stroke-width="0.25" transform="scale(0.72,1)">10</text><text x="8.4" y="-5.6" font-size="8.2" fill="#000" stroke="#000" stroke-width="0.25" transform="scale(0.95,1)">4</text></g>
<g transform="translate(202.80,209.20) rotate(-90) scale(0.9,1)"><text font-size="9" fill="#000" stroke="#000" stroke-width="0.2">B220 PE</text></g>
<text x="226" y="168.2" font-size="12.4" font-weight="bold" fill="#111">3.7</text>
</g>
<g>
<g transform="translate(362,156)" filter="url(#bl)"><path d="M23 18h1M6 19h1M8 19h1M7 20h1M14 20h1M21 20h1M12 21h1M24 22h1M25 23h1M12 24h2M20 24h1M7 25h1M19 25h1M14 26h1M20 26h1M6 27h1M8 27h1M15 27h1M19 27h1M28 27h1M13 28h1M20 28h1M9 29h1M22 30h1M9 31h1M22 32h1M24 32h1M8 33h1M26 33h1M3 34h1M8 34h1M13 34h1M17 34h1M9 35h1M24 35h1M8 36h1M12 36h1M15 36h1M1 37h1M12 37h1M22 37h1M9 39h1M14 39h1M20 40h1M2 41h1M14 42h1M21 42h1M13 43h1M15 43h1M29 43h1M20 44h1M25 44h1M28 44h1M2 45h2M10 45h1M14 45h1M21 45h1M28 45h1M31 45h1M13 46h1M15 46h2M18 46h1M20 46h1M28 46h1M6 47h1M17 47h1M21 47h1M8 48h2M14 48h1M16 48h1M19 48h1M22 48h1M38 48h1M5 49h1M7 49h2M11 49h2M14 49h1M16 49h2M19 49h1M22 49h2M26 49h1M28 49h1M32 49h1M5 50h1M8 50h2M11 50h4M16 50h2M19 50h1M21 50h1M23 50h1M25 50h1M28 50h1M30 50h1M1 51h1M3 51h2M6 51h9M16 51h3M20 51h3M24 51h3M28 51h1M31 51h1M44 51h1M1 52h7M9 52h16M34 52h2M3 53h1M5 53h22M34 53h1M4 54h23M33 54h1M45 54h1M2 55h1M4 55h22M28 55h1M31 55h1M36 55h1M38 55h1M2 56h3M6 56h21M30 56h1M34 56h2M1 57h2M4 57h23M28 57h1M30 57h1M1 58h3M5 58h23M29 58h1M31 58h1M39 58h1M2 59h26M2 60h25M2 61h9M12 61h14M27 61h1M3 62h6M10 62h17M1 63h1M4 63h2M7 63h7M15 63h12M31 63h1M34 63h1M42 63h1M2 64h2M5 64h16M22 64h4M27 64h2M38 64h2M2 65h1M6 65h18M25 65h4M30 65h1M2 66h2M5 66h14M20 66h8M29 66h1M3 67h1M6 67h3M11 67h12M26 67h1M32 67h1" stroke="#949494" stroke-width="1" fill="none" transform="translate(0,0.5)"/></g>
<path d="M361.8 156.5H456.4" stroke="#2a2a2a" stroke-width="1.2" fill="none"/>
<path d="M456.4 156.5V225.8" stroke="#3a3a3a" stroke-width="0.9" fill="none"/>
<path d="M361.8 155.9V225.8H456.79999999999995" stroke="#0a0a0a" stroke-width="1.7" fill="none"/>
<path d="M393.5 156.5V225.8M361.8 201.5H454.4" stroke="#333" stroke-width="1.05" fill="none"/>
<path d="M361.80 225.8v3.2M368.92 225.8v2.1M373.08 225.8v2.1M376.04 225.8v2.1M378.33 225.8v2.1M380.20 225.8v2.1M381.79 225.8v2.1M383.16 225.8v2.1M384.37 225.8v2.1M385.45 225.8v3.2M392.57 225.8v2.1M396.73 225.8v2.1M399.69 225.8v2.1M401.98 225.8v2.1M403.85 225.8v2.1M405.44 225.8v2.1M406.81 225.8v2.1M408.02 225.8v2.1M409.10 225.8v3.2M416.22 225.8v2.1M420.38 225.8v2.1M423.34 225.8v2.1M425.63 225.8v2.1M427.50 225.8v2.1M429.09 225.8v2.1M430.46 225.8v2.1M431.67 225.8v2.1M432.75 225.8v3.2M439.87 225.8v2.1M444.03 225.8v2.1M446.99 225.8v2.1M449.28 225.8v2.1M451.15 225.8v2.1M452.74 225.8v2.1M454.11 225.8v2.1M455.32 225.8v2.1M456.40 225.8v3.2M361.8 225.80h-3.2M361.8 220.58h-2.1M361.8 217.53h-2.1M361.8 215.37h-2.1M361.8 213.69h-2.1M361.8 212.32h-2.1M361.8 211.16h-2.1M361.8 210.15h-2.1M361.8 209.27h-2.1M361.8 208.48h-3.2M361.8 203.26h-2.1M361.8 200.21h-2.1M361.8 198.04h-2.1M361.8 196.37h-2.1M361.8 194.99h-2.1M361.8 193.83h-2.1M361.8 192.83h-2.1M361.8 191.94h-2.1M361.8 191.15h-3.2M361.8 185.93h-2.1M361.8 182.88h-2.1M361.8 180.72h-2.1M361.8 179.04h-2.1M361.8 177.67h-2.1M361.8 176.51h-2.1M361.8 175.50h-2.1M361.8 174.62h-2.1M361.8 173.82h-3.2M361.8 168.61h-2.1M361.8 165.56h-2.1M361.8 163.39h-2.1M361.8 161.72h-2.1M361.8 160.34h-2.1M361.8 159.18h-2.1M361.8 158.18h-2.1M361.8 157.29h-2.1M361.8 156.50h-3.2" stroke="#000" stroke-width="1" fill="none"/>
<g transform="translate(356.90,239.10) scale(0.92,1)"><text font-size="8" fill="#000" stroke="#000" stroke-width="0.25">10<tspan dy="-3.9" dx="0.6" font-size="8.2">0</tspan></text></g>
<g transform="translate(379.80,239.10) scale(0.92,1)"><text font-size="8" fill="#000" stroke="#000" stroke-width="0.25">10<tspan dy="-3.9" dx="0.6" font-size="8.2">1</tspan></text></g>
<g transform="translate(402.70,239.10) scale(0.92,1)"><text font-size="8" fill="#000" stroke="#000" stroke-width="0.25">10<tspan dy="-3.9" dx="0.6" font-size="8.2">2</tspan></text></g>
<g transform="translate(425.60,239.10) scale(0.92,1)"><text font-size="8" fill="#000" stroke="#000" stroke-width="0.25">10<tspan dy="-3.9" dx="0.6" font-size="8.2">3</tspan></text></g>
<g transform="translate(448.50,239.10) scale(0.92,1)"><text font-size="8" fill="#000" stroke="#000" stroke-width="0.25">10<tspan dy="-3.9" dx="0.6" font-size="8.2">4</tspan></text></g>
<g transform="translate(354.60,231.00) rotate(-90)"><text font-size="8.8" fill="#000" stroke="#000" stroke-width="0.25" transform="scale(0.72,1)">10</text><text x="8.4" y="-5.6" font-size="8.2" fill="#000" stroke="#000" stroke-width="0.25" transform="scale(0.95,1)">0</text></g>
<g transform="translate(354.60,213.95) rotate(-90)"><text font-size="8.8" fill="#000" stroke="#000" stroke-width="0.25" transform="scale(0.72,1)">10</text><text x="8.4" y="-5.6" font-size="8.2" fill="#000" stroke="#000" stroke-width="0.25" transform="scale(0.95,1)">1</text></g>
<g transform="translate(354.60,196.90) rotate(-90)"><text font-size="8.8" fill="#000" stroke="#000" stroke-width="0.25" transform="scale(0.72,1)">10</text><text x="8.4" y="-5.6" font-size="8.2" fill="#000" stroke="#000" stroke-width="0.25" transform="scale(0.95,1)">2</text></g>
<g transform="translate(354.60,179.85) rotate(-90)"><text font-size="8.8" fill="#000" stroke="#000" stroke-width="0.25" transform="scale(0.72,1)">10</text><text x="8.4" y="-5.6" font-size="8.2" fill="#000" stroke="#000" stroke-width="0.25" transform="scale(0.95,1)">3</text></g>
<g transform="translate(354.60,162.80) rotate(-90)"><text font-size="8.8" fill="#000" stroke="#000" stroke-width="0.25" transform="scale(0.72,1)">10</text><text x="8.4" y="-5.6" font-size="8.2" fill="#000" stroke="#000" stroke-width="0.25" transform="scale(0.95,1)">4</text></g>
<g transform="translate(344.00,209.20) rotate(-90) scale(0.9,1)"><text font-size="9" fill="#000" stroke="#000" stroke-width="0.2">B220 PE</text></g>
<text x="367" y="168.4" font-size="12.4" font-weight="bold" fill="#111">1.3</text>
</g>
<g>
<g transform="translate(80,282)" filter="url(#bl)"><path d="M34 3h1M2 4h1M27 5h1M5 6h1M12 6h1M15 6h1M31 6h1M37 6h1M4 7h1M22 8h1M29 8h1M31 9h1M37 9h1M56 10h1M24 11h1M45 11h1M54 11h1M10 12h1M17 12h1M21 12h1M32 12h1M60 12h1M14 13h1M38 13h1M44 13h1M3 14h1M6 14h1M26 14h3M36 14h2M10 15h1M12 15h1M16 15h1M19 15h1M21 15h1M23 15h1M26 15h1M28 15h1M32 15h3M38 15h4M43 15h1M45 15h1M4 16h1M7 16h1M18 16h1M22 16h1M26 16h3M31 16h3M39 16h2M43 16h1M46 16h2M50 16h1M54 16h1M2 17h1M7 17h2M11 17h4M22 17h1M25 17h1M27 17h2M31 17h1M33 17h2M36 17h2M39 17h4M44 17h1M56 17h1M64 17h1M7 18h5M13 18h1M16 18h3M21 18h1M24 18h10M35 18h1M37 18h8M51 18h1M7 19h1M18 19h21M40 19h1M42 19h1M44 19h2M48 19h2M1 20h2M10 20h2M14 20h7M22 20h23M47 20h2M53 20h1M56 20h1M63 20h1M2 21h1M4 21h2M7 21h1M12 21h3M18 21h11M30 21h17M49 21h1M52 21h1M62 21h1M1 22h1M3 22h2M6 22h3M11 22h3M15 22h3M19 22h16M36 22h11M48 22h1M2 23h4M7 23h3M11 23h1M13 23h3M18 23h1M20 23h20M41 23h8M59 23h1M2 24h1M7 24h1M9 24h4M14 24h1M16 24h28M45 24h3M49 24h1M52 24h1M54 24h1M58 24h1M3 25h1M5 25h1M7 25h1M9 25h2M12 25h29M42 25h7M64 25h1M66 25h1M3 26h2M6 26h1M8 26h3M13 26h1M15 26h1M18 26h31M50 26h2M61 26h1M3 27h2M7 27h5M13 27h3M17 27h12M30 27h17M49 27h1M55 27h2M58 27h1M77 27h1M1 28h2M5 28h2M8 28h2M13 28h3M18 28h27M46 28h2M55 28h1M3 29h2M6 29h1M8 29h1M10 29h3M15 29h2M18 29h19M38 29h7M46 29h5M52 29h1M64 29h1M4 30h1M8 30h2M11 30h1M15 30h10M26 30h22M49 30h1M53 30h1M2 31h1M4 31h4M11 31h1M14 31h2M17 31h28M46 31h3M52 31h1M65 31h1M4 32h2M7 32h4M12 32h3M16 32h4M21 32h11M33 32h17M51 32h1M53 32h1M6 33h1M9 33h1M12 33h13M26 33h16M43 33h5M56 33h1M2 34h1M4 34h1M6 34h1M8 34h3M13 34h2M17 34h2M20 34h1M22 34h5M28 34h19M48 34h2M53 34h1M58 34h1M2 35h2M9 35h2M13 35h4M18 35h2M21 35h1M23 35h5M29 35h17M48 35h1M55 35h1M1 36h1M4 36h2M8 36h1M10 36h8M20 36h14M35 36h3M39 36h3M44 36h4M51 36h1M60 36h1M2 37h2M5 37h3M9 37h3M13 37h2M16 37h1M18 37h4M24 37h3M28 37h8M37 37h7M46 37h1M59 37h1M3 38h1M7 38h1M9 38h7M17 38h5M23 38h12M36 38h7M44 38h1M49 38h1M7 39h4M14 39h1M16 39h1M25 39h1M28 39h2M31 39h5M37 39h4M44 39h1M56 39h1M65 39h1M5 40h3M11 40h1M14 40h1M16 40h2M19 40h2M22 40h2M28 40h2M32 40h1M34 40h2M37 40h1M41 40h3M45 40h1M50 40h1M55 40h2M63 40h1M65 40h1M68 40h1M6 41h1M9 41h1M12 41h1M14 41h1M20 41h3M29 41h1M33 41h1M36 41h1M39 41h2M48 41h3M52 41h1M54 41h1M56 41h1M60 41h1M79 41h1M81 41h1M9 42h1M11 42h1M14 42h2M18 42h1M22 42h1M25 42h1M32 42h1M37 42h3M42 42h2M45 42h1M48 42h2M59 42h3M66 42h1M68 42h1M2 43h1M7 43h1M10 43h1M22 43h1M25 43h1M28 43h5M36 43h1M39 43h1M44 43h1M48 43h1M53 43h1M63 43h1M13 44h1M24 44h1M26 44h1M32 44h3M37 44h3M42 44h2M45 44h1M8 45h2M12 45h1M18 45h1M23 45h3M27 45h2M32 45h2M35 45h2M40 45h1M42 45h1M45 45h1M47 45h2M51 45h1M55 45h1M3 46h1M5 46h2M9 46h1M13 46h1M15 46h3M23 46h1M26 46h1M28 46h1M30 46h2M35 46h1M39 46h1M41 46h3M49 46h1M57 46h1M7 47h1M13 47h12M26 47h1M28 47h1M30 47h1M32 47h1M34 47h4M39 47h1M49 47h1M57 47h1M70 47h1M81 47h1M7 48h1M10 48h1M13 48h1M15 48h2M18 48h8M27 48h1M29 48h5M35 48h2M38 48h1M41 48h1M49 48h2M55 48h1M61 48h2M64 48h1M80 48h1M6 49h1M11 49h1M13 49h13M27 49h8M36 49h1M38 49h1M40 49h3M46 49h1M49 49h1M51 49h2M66 49h1M70 49h1M72 49h1M81 49h1M9 50h5M15 50h6M22 50h19M43 50h2M46 50h6M55 50h1M59 50h1M64 50h1M2 51h2M5 51h1M7 51h18M26 51h17M44 51h4M49 51h2M52 51h2M60 51h1M67 51h1M73 51h1M5 52h2M9 52h2M12 52h25M38 52h8M69 52h1M75 52h1M2 53h1M5 53h5M11 53h15M27 53h17M45 53h1M49 53h6M56 53h2M1 54h2M7 54h4M12 54h6M19 54h27M48 54h2M51 54h1M54 54h1M58 54h2M63 54h2M1 55h1M4 55h21M26 55h24M51 55h1M54 55h1M56 55h1M61 55h1M70 55h1M3 56h1M5 56h2M8 56h16M25 56h22M48 56h5M55 56h2M3 57h1M5 57h6M12 57h32M45 57h5M52 57h1M54 57h1M56 57h2M59 57h1M63 57h1M66 57h1M2 58h1M6 58h1M8 58h37M46 58h2M49 58h4M54 58h1M60 58h1M63 58h1M7 59h38M47 59h5M53 59h1M56 59h1M58 59h2M1 60h1M6 60h1M9 60h38M50 60h2M54 60h4M59 60h1M64 60h1M75 60h1M2 61h1M5 61h23M29 61h10M41 61h5M48 61h1M50 61h1M52 61h2M55 61h1M59 61h1M8 62h10M19 62h5M25 62h19M47 62h1M49 62h3M53 62h1M55 62h1M6 63h23M30 63h13M45 63h2M49 63h2M54 63h1M58 63h2M9 64h1M11 64h9M21 64h19M41 64h1M43 64h3M49 64h2M54 64h2M3 65h1M5 65h1M8 65h1M10 65h24M35 65h5M41 65h4M48 65h2M51 65h2M63 65h1M71 65h1M2 66h1M7 66h1M9 66h2M12 66h15M28 66h9M38 66h8M47 66h3M52 66h1M58 66h1M63 66h1M79 66h1M3 67h1M7 67h1M9 67h1M11 67h2M14 67h25M40 67h1M42 67h4M47 67h5M54 67h2M6 68h2M13 68h4M18 68h4M23 68h11M37 68h3M48 68h1M58 68h1M70 68h1" stroke="#949494" stroke-width="1" fill="none" transform="translate(0,0.5)"/></g>
<path d="M80 281.9H174.5" stroke="#2a2a2a" stroke-width="1.2" fill="none"/>
<path d="M174.5 281.9V351.9" stroke="#3a3a3a" stroke-width="0.9" fill="none"/>
<path d="M80 281.29999999999995V351.9H174.9" stroke="#0a0a0a" stroke-width="1.7" fill="none"/>
<path d="M101.5 281.9V351.9M80 325.5H172.5" stroke="#333" stroke-width="1.05" fill="none"/>
<path d="M80.00 351.9v3.2M87.11 351.9v2.1M91.27 351.9v2.1M94.22 351.9v2.1M96.51 351.9v2.1M98.38 351.9v2.1M99.97 351.9v2.1M101.34 351.9v2.1M102.54 351.9v2.1M103.62 351.9v3.2M110.74 351.9v2.1M114.90 351.9v2.1M117.85 351.9v2.1M120.14 351.9v2.1M122.01 351.9v2.1M123.59 351.9v2.1M124.96 351.9v2.1M126.17 351.9v2.1M127.25 351.9v3.2M134.36 351.9v2.1M138.52 351.9v2.1M141.47 351.9v2.1M143.76 351.9v2.1M145.63 351.9v2.1M147.22 351.9v2.1M148.59 351.9v2.1M149.79 351.9v2.1M150.88 351.9v3.2M157.99 351.9v2.1M162.15 351.9v2.1M165.10 351.9v2.1M167.39 351.9v2.1M169.26 351.9v2.1M170.84 351.9v2.1M172.21 351.9v2.1M173.42 351.9v2.1M174.50 351.9v3.2M80 351.90h-3.2M80 346.63h-2.1M80 343.55h-2.1M80 341.36h-2.1M80 339.67h-2.1M80 338.28h-2.1M80 337.11h-2.1M80 336.10h-2.1M80 335.20h-2.1M80 334.40h-3.2M80 329.13h-2.1M80 326.05h-2.1M80 323.86h-2.1M80 322.17h-2.1M80 320.78h-2.1M80 319.61h-2.1M80 318.60h-2.1M80 317.70h-2.1M80 316.90h-3.2M80 311.63h-2.1M80 308.55h-2.1M80 306.36h-2.1M80 304.67h-2.1M80 303.28h-2.1M80 302.11h-2.1M80 301.10h-2.1M80 300.20h-2.1M80 299.40h-3.2M80 294.13h-2.1M80 291.05h-2.1M80 288.86h-2.1M80 287.17h-2.1M80 285.78h-2.1M80 284.61h-2.1M80 283.60h-2.1M80 282.70h-2.1M80 281.90h-3.2" stroke="#000" stroke-width="1" fill="none"/>
<g transform="translate(75.10,365.20) scale(0.92,1)"><text font-size="8" fill="#000" stroke="#000" stroke-width="0.25">10<tspan dy="-3.9" dx="0.6" font-size="8.2">0</tspan></text></g>
<g transform="translate(97.97,365.20) scale(0.92,1)"><text font-size="8" fill="#000" stroke="#000" stroke-width="0.25">10<tspan dy="-3.9" dx="0.6" font-size="8.2">1</tspan></text></g>
<g transform="translate(120.85,365.20) scale(0.92,1)"><text font-size="8" fill="#000" stroke="#000" stroke-width="0.25">10<tspan dy="-3.9" dx="0.6" font-size="8.2">2</tspan></text></g>
<g transform="translate(143.72,365.20) scale(0.92,1)"><text font-size="8" fill="#000" stroke="#000" stroke-width="0.25">10<tspan dy="-3.9" dx="0.6" font-size="8.2">3</tspan></text></g>
<g transform="translate(166.60,365.20) scale(0.92,1)"><text font-size="8" fill="#000" stroke="#000" stroke-width="0.25">10<tspan dy="-3.9" dx="0.6" font-size="8.2">4</tspan></text></g>
<g transform="translate(72.80,357.10) rotate(-90)"><text font-size="8.8" fill="#000" stroke="#000" stroke-width="0.25" transform="scale(0.72,1)">10</text><text x="8.4" y="-5.6" font-size="8.2" fill="#000" stroke="#000" stroke-width="0.25" transform="scale(0.95,1)">0</text></g>
<g transform="translate(72.80,339.87) rotate(-90)"><text font-size="8.8" fill="#000" stroke="#000" stroke-width="0.25" transform="scale(0.72,1)">10</text><text x="8.4" y="-5.6" font-size="8.2" fill="#000" stroke="#000" stroke-width="0.25" transform="scale(0.95,1)">1</text></g>
<g transform="translate(72.80,322.65) rotate(-90)"><text font-size="8.8" fill="#000" stroke="#000" stroke-width="0.25" transform="scale(0.72,1)">10</text><text x="8.4" y="-5.6" font-size="8.2" fill="#000" stroke="#000" stroke-width="0.25" transform="scale(0.95,1)">2</text></g>
<g transform="translate(72.80,305.42) rotate(-90)"><text font-size="8.8" fill="#000" stroke="#000" stroke-width="0.25" transform="scale(0.72,1)">10</text><text x="8.4" y="-5.6" font-size="8.2" fill="#000" stroke="#000" stroke-width="0.25" transform="scale(0.95,1)">3</text></g>
<g transform="translate(72.80,288.20) rotate(-90)"><text font-size="8.8" fill="#000" stroke="#000" stroke-width="0.25" transform="scale(0.72,1)">10</text><text x="8.4" y="-5.6" font-size="8.2" fill="#000" stroke="#000" stroke-width="0.25" transform="scale(0.95,1)">4</text></g>
<g transform="translate(62.00,312.40) rotate(-90) scale(0.84,1)"><text font-size="9" fill="#000" stroke="#000" stroke-width="0.2">PE</text></g>
<g transform="translate(138.00,374.30) scale(0.97,1)"><text font-size="8" fill="#000" stroke="#000" stroke-width="0.2" text-anchor="middle">FITC</text></g>
<text x="172.8" y="294.3" font-size="12.4" font-weight="bold" fill="#111" text-anchor="end">29.5</text>
</g>
<g>
<g transform="translate(224,282)" filter="url(#bl)"><path d="M42 9h1M33 12h1M26 13h1M51 13h1M29 16h1M50 16h1M31 17h1M34 17h1M36 17h1M38 17h1M54 17h1M56 17h1M19 18h1M32 18h1M34 18h1M38 18h1M42 18h3M46 18h2M49 18h1M20 19h1M33 19h1M37 19h4M42 19h2M45 19h1M47 19h2M51 19h1M28 20h1M30 20h1M32 20h1M34 20h2M39 20h1M42 20h3M47 20h4M59 20h1M70 20h1M20 21h3M29 21h1M31 21h3M36 21h3M40 21h2M43 21h2M47 21h1M52 21h1M58 21h1M20 22h1M26 22h3M31 22h8M43 22h1M45 22h3M50 22h5M59 22h2M65 22h1M73 22h1M1 23h1M26 23h4M31 23h4M36 23h10M47 23h4M52 23h1M56 23h1M61 23h1M25 24h2M28 24h23M52 24h2M58 24h2M64 24h1M17 25h1M20 25h2M26 25h7M35 25h5M41 25h14M56 25h1M2 26h1M21 26h1M25 26h1M27 26h1M29 26h7M37 26h11M49 26h2M53 26h2M14 27h1M28 27h8M37 27h14M52 27h4M62 27h1M25 28h2M28 28h11M40 28h15M56 28h1M58 28h1M64 28h1M73 28h1M8 29h1M22 29h1M25 29h1M27 29h7M35 29h19M55 29h1M58 29h1M74 29h1M26 30h3M30 30h4M35 30h17M53 30h3M58 30h1M62 30h1M12 31h1M26 31h1M28 31h18M47 31h2M50 31h2M55 31h1M60 31h1M63 31h1M8 32h1M26 32h2M29 32h18M49 32h6M63 32h1M20 33h1M26 33h1M28 33h3M32 33h3M37 33h5M43 33h3M47 33h1M50 33h1M52 33h1M54 33h2M20 34h1M25 34h1M31 34h3M37 34h3M44 34h8M53 34h1M56 34h1M21 35h1M26 35h1M31 35h2M34 35h1M39 35h1M41 35h2M44 35h4M49 35h1M55 35h1M60 35h1M63 35h1M66 35h1M12 36h1M19 36h1M30 36h1M34 36h3M38 36h2M41 36h1M44 36h3M52 36h1M3 37h1M18 37h1M34 37h1M36 37h1M47 37h3M52 37h1M21 38h1M29 38h1M36 38h1M39 38h2M44 38h1M48 38h1M53 38h1M15 39h1M41 39h1M57 39h2M61 39h1M20 40h1M23 40h1M33 40h1M40 40h2M50 40h1M52 40h1M58 40h1M34 41h1M40 41h1M52 41h1M54 41h3M24 42h1M30 42h1M38 42h1M42 42h1M49 42h2M54 42h1M56 42h1M13 43h1M16 43h1M28 43h1M40 43h2M51 43h1M55 43h1M61 43h1M63 43h1M31 44h1M42 44h1M48 44h1M59 44h1M64 44h1M13 45h2M28 45h1M33 45h1M36 45h1M47 45h2M53 45h1M6 46h1M25 46h1M29 46h2M32 46h1M34 46h1M42 46h1M46 46h1M48 46h1M51 46h1M57 46h1M24 47h1M29 47h1M31 47h2M34 47h1M36 47h1M38 47h1M45 47h1M51 47h2M56 47h2M60 47h2M7 48h1M22 48h3M26 48h6M33 48h2M36 48h3M42 48h1M44 48h1M50 48h1M58 48h1M10 49h2M17 49h1M20 49h5M26 49h1M28 49h5M34 49h2M37 49h1M39 49h4M46 49h3M51 49h1M56 49h1M60 49h1M77 49h1M6 50h1M9 50h1M13 50h1M18 50h1M21 50h1M23 50h9M33 50h4M38 50h3M43 50h1M46 50h3M51 50h2M61 50h1M63 50h1M5 51h1M11 51h1M13 51h1M18 51h1M22 51h13M36 51h6M51 51h3M56 51h1M17 52h1M19 52h1M21 52h20M51 52h1M54 52h1M59 52h1M5 53h2M9 53h1M11 53h2M21 53h2M24 53h2M27 53h9M39 53h2M42 53h1M45 53h1M57 53h3M64 53h2M2 54h1M4 54h2M7 54h2M11 54h1M15 54h1M19 54h3M23 54h7M31 54h11M46 54h1M54 54h4M59 54h1M2 55h3M6 55h5M12 55h2M18 55h24M43 55h1M45 55h2M48 55h1M56 55h1M4 56h5M10 56h2M13 56h1M15 56h1M21 56h1M23 56h1M25 56h14M40 56h3M48 56h1M57 56h2M60 56h2M2 57h1M6 57h1M10 57h1M12 57h1M19 57h8M28 57h5M34 57h5M42 57h1M50 57h1M55 57h1M59 57h1M4 58h1M6 58h1M12 58h1M18 58h2M21 58h21M51 58h1M55 58h3M65 58h1M3 59h1M6 59h1M10 59h1M12 59h1M14 59h1M16 59h1M21 59h10M32 59h10M43 59h1M50 59h1M52 59h1M63 59h1M3 60h1M5 60h1M10 60h1M14 60h3M21 60h4M27 60h1M29 60h11M41 60h1M45 60h1M55 60h1M59 60h1M63 60h2M1 61h1M5 61h1M9 61h1M13 61h2M19 61h3M23 61h11M35 61h6M3 62h2M6 62h1M8 62h3M12 62h4M18 62h1M20 62h3M24 62h3M28 62h9M38 62h3M43 62h2M55 62h1M63 62h1M4 63h1M8 63h1M10 63h3M14 63h2M18 63h1M21 63h3M25 63h2M28 63h7M36 63h2M39 63h3M53 63h1M4 64h1M6 64h2M13 64h2M22 64h9M32 64h4M37 64h2M69 64h1M5 65h1M8 65h1M10 65h5M16 65h1M19 65h1M21 65h1M24 65h14M44 65h1M48 65h1M2 66h2M9 66h1M11 66h1M13 66h1M15 66h3M19 66h1M23 66h3M28 66h1M30 66h1M32 66h3M36 66h2M40 66h1M46 66h1M3 67h1M6 67h1M8 67h1M11 67h1M19 67h1M22 67h1M25 67h1M27 67h3M32 67h5M45 67h1M7 68h1M10 68h1M12 68h1M19 68h1M30 68h1M34 68h1M36 68h1" stroke="#949494" stroke-width="1" fill="none" transform="translate(0,0.5)"/></g>
<path d="M223.5 281.8H317.9" stroke="#2a2a2a" stroke-width="1.2" fill="none"/>
<path d="M317.9 281.8V351.5" stroke="#3a3a3a" stroke-width="0.9" fill="none"/>
<path d="M223.5 281.2V351.5H318.29999999999995" stroke="#0a0a0a" stroke-width="1.7" fill="none"/>
<path d="M244.5 281.8V351.5M223.5 325.5H315.9" stroke="#333" stroke-width="1.05" fill="none"/>
<path d="M223.50 351.5v3.2M230.60 351.5v2.1M234.76 351.5v2.1M237.71 351.5v2.1M240.00 351.5v2.1M241.86 351.5v2.1M243.44 351.5v2.1M244.81 351.5v2.1M246.02 351.5v2.1M247.10 351.5v3.2M254.20 351.5v2.1M258.36 351.5v2.1M261.31 351.5v2.1M263.60 351.5v2.1M265.46 351.5v2.1M267.04 351.5v2.1M268.41 351.5v2.1M269.62 351.5v2.1M270.70 351.5v3.2M277.80 351.5v2.1M281.96 351.5v2.1M284.91 351.5v2.1M287.20 351.5v2.1M289.06 351.5v2.1M290.64 351.5v2.1M292.01 351.5v2.1M293.22 351.5v2.1M294.30 351.5v3.2M301.40 351.5v2.1M305.56 351.5v2.1M308.51 351.5v2.1M310.80 351.5v2.1M312.66 351.5v2.1M314.24 351.5v2.1M315.61 351.5v2.1M316.82 351.5v2.1M317.90 351.5v3.2M223.5 351.50h-3.2M223.5 346.25h-2.1M223.5 343.19h-2.1M223.5 341.01h-2.1M223.5 339.32h-2.1M223.5 337.94h-2.1M223.5 336.77h-2.1M223.5 335.76h-2.1M223.5 334.87h-2.1M223.5 334.07h-3.2M223.5 328.83h-2.1M223.5 325.76h-2.1M223.5 323.58h-2.1M223.5 321.90h-2.1M223.5 320.52h-2.1M223.5 319.35h-2.1M223.5 318.34h-2.1M223.5 317.45h-2.1M223.5 316.65h-3.2M223.5 311.40h-2.1M223.5 308.34h-2.1M223.5 306.16h-2.1M223.5 304.47h-2.1M223.5 303.09h-2.1M223.5 301.92h-2.1M223.5 300.91h-2.1M223.5 300.02h-2.1M223.5 299.23h-3.2M223.5 293.98h-2.1M223.5 290.91h-2.1M223.5 288.73h-2.1M223.5 287.05h-2.1M223.5 285.67h-2.1M223.5 284.50h-2.1M223.5 283.49h-2.1M223.5 282.60h-2.1M223.5 281.80h-3.2" stroke="#000" stroke-width="1" fill="none"/>
<g transform="translate(218.60,364.80) scale(0.92,1)"><text font-size="8" fill="#000" stroke="#000" stroke-width="0.25">10<tspan dy="-3.9" dx="0.6" font-size="8.2">0</tspan></text></g>
<g transform="translate(241.45,364.80) scale(0.92,1)"><text font-size="8" fill="#000" stroke="#000" stroke-width="0.25">10<tspan dy="-3.9" dx="0.6" font-size="8.2">1</tspan></text></g>
<g transform="translate(264.30,364.80) scale(0.92,1)"><text font-size="8" fill="#000" stroke="#000" stroke-width="0.25">10<tspan dy="-3.9" dx="0.6" font-size="8.2">2</tspan></text></g>
<g transform="translate(287.15,364.80) scale(0.92,1)"><text font-size="8" fill="#000" stroke="#000" stroke-width="0.25">10<tspan dy="-3.9" dx="0.6" font-size="8.2">3</tspan></text></g>
<g transform="translate(310.00,364.80) scale(0.92,1)"><text font-size="8" fill="#000" stroke="#000" stroke-width="0.25">10<tspan dy="-3.9" dx="0.6" font-size="8.2">4</tspan></text></g>
<g transform="translate(216.30,356.70) rotate(-90)"><text font-size="8.8" fill="#000" stroke="#000" stroke-width="0.25" transform="scale(0.72,1)">10</text><text x="8.4" y="-5.6" font-size="8.2" fill="#000" stroke="#000" stroke-width="0.25" transform="scale(0.95,1)">0</text></g>
<g transform="translate(216.30,339.55) rotate(-90)"><text font-size="8.8" fill="#000" stroke="#000" stroke-width="0.25" transform="scale(0.72,1)">10</text><text x="8.4" y="-5.6" font-size="8.2" fill="#000" stroke="#000" stroke-width="0.25" transform="scale(0.95,1)">1</text></g>
<g transform="translate(216.30,322.40) rotate(-90)"><text font-size="8.8" fill="#000" stroke="#000" stroke-width="0.25" transform="scale(0.72,1)">10</text><text x="8.4" y="-5.6" font-size="8.2" fill="#000" stroke="#000" stroke-width="0.25" transform="scale(0.95,1)">2</text></g>
<g transform="translate(216.30,305.25) rotate(-90)"><text font-size="8.8" fill="#000" stroke="#000" stroke-width="0.25" transform="scale(0.72,1)">10</text><text x="8.4" y="-5.6" font-size="8.2" fill="#000" stroke="#000" stroke-width="0.25" transform="scale(0.95,1)">3</text></g>
<g transform="translate(216.30,288.10) rotate(-90)"><text font-size="8.8" fill="#000" stroke="#000" stroke-width="0.25" transform="scale(0.72,1)">10</text><text x="8.4" y="-5.6" font-size="8.2" fill="#000" stroke="#000" stroke-width="0.25" transform="scale(0.95,1)">4</text></g>
<g transform="translate(205.50,312.30) rotate(-90) scale(0.84,1)"><text font-size="9" fill="#000" stroke="#000" stroke-width="0.2">PE</text></g>
<g transform="translate(281.50,373.90) scale(0.97,1)"><text font-size="8" fill="#000" stroke="#000" stroke-width="0.2" text-anchor="middle">FITC</text></g>
<text x="315.3" y="293.9" font-size="12.4" font-weight="bold" fill="#111" text-anchor="end">39.4</text>
</g>
<g>
<g transform="translate(363,282)" filter="url(#bl)"><path d="M45 16h1M40 18h1M45 19h1M54 19h1M33 20h1M60 20h1M43 21h1M55 21h1M38 22h1M43 22h1M47 22h1M64 22h1M39 23h1M44 23h1M52 23h1M61 23h1M36 24h3M40 24h1M53 25h1M38 26h1M40 26h1M42 26h1M44 26h1M51 26h1M42 27h1M44 27h1M49 27h2M55 27h1M59 27h1M33 28h1M35 28h1M37 28h1M57 28h1M29 29h1M36 29h1M38 29h1M44 29h1M59 29h1M63 29h1M39 30h1M42 30h1M46 30h2M59 30h1M63 30h1M39 31h1M44 31h1M47 31h1M62 31h1M43 32h2M54 32h1M57 32h1M63 32h1M29 33h1M44 33h1M53 33h2M56 33h2M36 34h1M43 34h1M46 34h1M57 34h1M62 34h1M39 35h1M43 35h2M47 35h1M60 35h1M29 36h1M36 36h1M38 36h1M46 36h1M36 37h1M40 37h1M45 37h1M58 37h2M42 38h1M43 39h1M54 39h1M58 39h1M18 41h1M34 41h1M37 41h1M40 41h1M44 41h1M48 41h1M41 42h1M47 42h1M53 42h1M51 43h1M57 43h1M68 43h1M30 44h1M45 44h2M50 44h2M38 45h1M40 45h1M51 45h1M54 45h1M80 45h1M25 46h1M28 46h1M45 46h1M48 46h1M57 46h1M60 46h3M64 46h1M68 46h1M30 47h2M35 47h2M38 47h1M46 47h1M62 47h1M72 47h1M74 47h1M14 48h1M34 48h1M40 48h1M42 48h3M47 48h1M49 48h2M54 48h1M56 48h1M58 48h1M65 48h2M13 49h1M24 49h1M28 49h1M34 49h2M42 49h1M44 49h4M50 49h1M56 49h5M62 49h1M64 49h1M91 49h1M4 50h2M13 50h1M17 50h1M21 50h1M23 50h1M25 50h1M27 50h2M30 50h1M33 50h2M36 50h15M52 50h1M55 50h3M66 50h1M69 50h1M71 50h1M73 50h1M76 50h1M4 51h2M7 51h1M11 51h2M14 51h3M18 51h1M20 51h1M22 51h3M28 51h1M30 51h6M37 51h8M46 51h1M48 51h4M53 51h2M56 51h1M59 51h1M63 51h1M67 51h1M70 51h1M5 52h2M9 52h1M11 52h1M18 52h1M21 52h1M23 52h24M48 52h7M56 52h3M60 52h1M62 52h3M67 52h4M3 53h1M6 53h4M11 53h1M13 53h2M17 53h3M21 53h34M56 53h1M58 53h5M64 53h1M67 53h2M77 53h2M82 53h1M1 54h1M6 54h1M9 54h3M15 54h32M48 54h11M60 54h1M62 54h1M68 54h1M70 54h1M1 55h1M4 55h3M9 55h2M12 55h2M15 55h2M22 55h34M58 55h4M64 55h1M66 55h1M68 55h1M71 55h2M79 55h1M84 55h1M1 56h3M5 56h2M8 56h2M13 56h2M16 56h2M19 56h1M21 56h38M61 56h1M64 56h3M69 56h3M81 56h1M2 57h1M4 57h1M9 57h9M19 57h1M21 57h40M63 57h5M70 57h1M72 57h2M76 57h1M4 58h1M6 58h1M8 58h1M10 58h51M63 58h1M66 58h1M69 58h1M71 58h1M73 58h2M78 58h1M84 58h1M2 59h1M4 59h1M7 59h4M12 59h6M19 59h39M61 59h3M66 59h5M79 59h1M2 60h1M6 60h3M10 60h1M13 60h2M17 60h2M20 60h38M60 60h3M64 60h1M66 60h3M70 60h1M72 60h3M2 61h2M5 61h1M8 61h2M11 61h1M13 61h47M62 61h2M65 61h1M68 61h1M74 61h1M77 61h1M80 61h1M2 62h1M5 62h3M10 62h1M12 62h1M14 62h40M55 62h8M64 62h2M67 62h1M85 62h1M3 63h2M6 63h1M8 63h3M13 63h2M16 63h1M18 63h43M62 63h2M70 63h1M73 63h1M3 64h2M6 64h2M10 64h2M14 64h1M16 64h6M23 64h4M28 64h30M61 64h2M64 64h1M66 64h3M71 64h2M2 65h1M6 65h2M9 65h10M21 65h35M57 65h2M60 65h1M62 65h2M67 65h1M69 65h4M82 65h1M3 66h5M10 66h1M12 66h12M25 66h35M61 66h3M77 66h1M6 67h1M8 67h1M10 67h1M12 67h1M14 67h1M16 67h1M21 67h35M58 67h1M60 67h3M64 67h1M68 67h1M70 67h1M4 68h2M9 68h2M14 68h1M27 68h17M46 68h4M51 68h1M56 68h1M63 68h1M69 68h1" stroke="#949494" stroke-width="1" fill="none" transform="translate(0,0.5)"/></g>
<path d="M362.9 281.6H457.2" stroke="#2a2a2a" stroke-width="1.2" fill="none"/>
<path d="M457.2 281.6V351.5" stroke="#3a3a3a" stroke-width="0.9" fill="none"/>
<path d="M362.9 281.0V351.5H457.59999999999997" stroke="#0a0a0a" stroke-width="1.7" fill="none"/>
<path d="M385.5 281.6V351.5M362.9 325.5H455.2" stroke="#333" stroke-width="1.05" fill="none"/>
<path d="M362.90 351.5v3.2M370.00 351.5v2.1M374.15 351.5v2.1M377.09 351.5v2.1M379.38 351.5v2.1M381.24 351.5v2.1M382.82 351.5v2.1M384.19 351.5v2.1M385.40 351.5v2.1M386.47 351.5v3.2M393.57 351.5v2.1M397.72 351.5v2.1M400.67 351.5v2.1M402.95 351.5v2.1M404.82 351.5v2.1M406.40 351.5v2.1M407.77 351.5v2.1M408.97 351.5v2.1M410.05 351.5v3.2M417.15 351.5v2.1M421.30 351.5v2.1M424.24 351.5v2.1M426.53 351.5v2.1M428.39 351.5v2.1M429.97 351.5v2.1M431.34 351.5v2.1M432.55 351.5v2.1M433.62 351.5v3.2M440.72 351.5v2.1M444.87 351.5v2.1M447.82 351.5v2.1M450.10 351.5v2.1M451.97 351.5v2.1M453.55 351.5v2.1M454.92 351.5v2.1M456.12 351.5v2.1M457.20 351.5v3.2M362.9 351.50h-3.2M362.9 346.24h-2.1M362.9 343.16h-2.1M362.9 340.98h-2.1M362.9 339.29h-2.1M362.9 337.90h-2.1M362.9 336.73h-2.1M362.9 335.72h-2.1M362.9 334.82h-2.1M362.9 334.02h-3.2M362.9 328.76h-2.1M362.9 325.69h-2.1M362.9 323.50h-2.1M362.9 321.81h-2.1M362.9 320.43h-2.1M362.9 319.26h-2.1M362.9 318.24h-2.1M362.9 317.35h-2.1M362.9 316.55h-3.2M362.9 311.29h-2.1M362.9 308.21h-2.1M362.9 306.03h-2.1M362.9 304.34h-2.1M362.9 302.95h-2.1M362.9 301.78h-2.1M362.9 300.77h-2.1M362.9 299.87h-2.1M362.9 299.08h-3.2M362.9 293.81h-2.1M362.9 290.74h-2.1M362.9 288.55h-2.1M362.9 286.86h-2.1M362.9 285.48h-2.1M362.9 284.31h-2.1M362.9 283.29h-2.1M362.9 282.40h-2.1M362.9 281.60h-3.2" stroke="#000" stroke-width="1" fill="none"/>
<g transform="translate(358.00,364.80) scale(0.92,1)"><text font-size="8" fill="#000" stroke="#000" stroke-width="0.25">10<tspan dy="-3.9" dx="0.6" font-size="8.2">0</tspan></text></g>
<g transform="translate(380.82,364.80) scale(0.92,1)"><text font-size="8" fill="#000" stroke="#000" stroke-width="0.25">10<tspan dy="-3.9" dx="0.6" font-size="8.2">1</tspan></text></g>
<g transform="translate(403.65,364.80) scale(0.92,1)"><text font-size="8" fill="#000" stroke="#000" stroke-width="0.25">10<tspan dy="-3.9" dx="0.6" font-size="8.2">2</tspan></text></g>
<g transform="translate(426.48,364.80) scale(0.92,1)"><text font-size="8" fill="#000" stroke="#000" stroke-width="0.25">10<tspan dy="-3.9" dx="0.6" font-size="8.2">3</tspan></text></g>
<g transform="translate(449.30,364.80) scale(0.92,1)"><text font-size="8" fill="#000" stroke="#000" stroke-width="0.25">10<tspan dy="-3.9" dx="0.6" font-size="8.2">4</tspan></text></g>
<g transform="translate(355.70,356.70) rotate(-90)"><text font-size="8.8" fill="#000" stroke="#000" stroke-width="0.25" transform="scale(0.72,1)">10</text><text x="8.4" y="-5.6" font-size="8.2" fill="#000" stroke="#000" stroke-width="0.25" transform="scale(0.95,1)">0</text></g>
<g transform="translate(355.70,339.50) rotate(-90)"><text font-size="8.8" fill="#000" stroke="#000" stroke-width="0.25" transform="scale(0.72,1)">10</text><text x="8.4" y="-5.6" font-size="8.2" fill="#000" stroke="#000" stroke-width="0.25" transform="scale(0.95,1)">1</text></g>
<g transform="translate(355.70,322.30) rotate(-90)"><text font-size="8.8" fill="#000" stroke="#000" stroke-width="0.25" transform="scale(0.72,1)">10</text><text x="8.4" y="-5.6" font-size="8.2" fill="#000" stroke="#000" stroke-width="0.25" transform="scale(0.95,1)">2</text></g>
<g transform="translate(355.70,305.10) rotate(-90)"><text font-size="8.8" fill="#000" stroke="#000" stroke-width="0.25" transform="scale(0.72,1)">10</text><text x="8.4" y="-5.6" font-size="8.2" fill="#000" stroke="#000" stroke-width="0.25" transform="scale(0.95,1)">3</text></g>
<g transform="translate(355.70,287.90) rotate(-90)"><text font-size="8.8" fill="#000" stroke="#000" stroke-width="0.25" transform="scale(0.72,1)">10</text><text x="8.4" y="-5.6" font-size="8.2" fill="#000" stroke="#000" stroke-width="0.25" transform="scale(0.95,1)">4</text></g>
<g transform="translate(344.90,312.10) rotate(-90) scale(0.84,1)"><text font-size="9" fill="#000" stroke="#000" stroke-width="0.2">PE</text></g>
<g transform="translate(420.90,373.90) scale(0.97,1)"><text font-size="8" fill="#000" stroke="#000" stroke-width="0.2" text-anchor="middle">FITC</text></g>
<text x="453" y="294.6" font-size="12.4" font-weight="bold" fill="#111" text-anchor="end">2.1</text>
</g>
<g>
<g transform="translate(80,389)" filter="url(#bl)"><path d="M23 5h1M12 10h1M38 11h1M3 14h1M40 16h1M34 17h2M37 17h1M39 17h1M46 17h1M37 18h2M40 18h1M11 19h1M29 19h1M31 19h1M35 19h1M37 19h1M39 19h1M31 20h2M35 20h1M37 20h3M7 21h1M30 21h1M32 21h2M35 21h2M38 21h2M41 21h1M32 22h1M35 22h1M38 22h3M55 22h1M34 23h1M37 23h1M41 23h3M36 24h4M42 24h1M30 25h1M33 25h2M37 25h1M39 25h2M42 25h2M30 26h2M33 26h1M38 26h1M42 26h2M6 27h1M28 27h1M35 27h2M38 27h3M43 27h1M66 27h1M18 28h1M30 28h1M33 28h1M36 28h3M33 29h1M37 29h3M43 29h1M17 30h1M31 30h1M40 30h3M36 31h1M40 31h2M29 32h1M38 32h1M42 32h3M29 33h1M34 33h1M37 33h1M39 33h1M41 33h2M21 34h1M33 34h1M40 34h2M44 34h1M5 35h1M34 35h2M38 35h2M33 36h1M46 36h1M5 37h1M10 37h1M23 37h1M42 37h1M4 38h1M17 38h1M28 38h1M40 38h1M12 39h1M10 40h1M13 40h1M18 40h1M30 40h1M41 40h1M43 40h1M10 41h1M13 41h1M40 41h1M49 41h1M51 41h1M56 41h1M13 42h1M16 42h1M19 42h2M31 42h2M36 42h1M1 43h1M5 43h1M17 43h1M26 43h2M31 43h1M47 43h1M60 43h1M7 44h1M17 44h1M20 44h1M38 44h1M47 44h1M56 44h1M61 44h1M12 45h2M18 45h1M21 45h1M23 45h1M27 45h2M31 45h2M37 45h2M42 45h1M48 45h1M51 45h1M14 46h3M18 46h1M21 46h1M24 46h3M28 46h1M30 46h1M33 46h1M37 46h1M40 46h1M45 46h2M7 47h1M12 47h1M18 47h3M22 47h2M26 47h3M31 47h1M33 47h3M38 47h3M42 47h1M46 47h1M50 47h1M58 47h1M8 48h1M10 48h1M12 48h8M22 48h6M30 48h2M33 48h2M37 48h2M43 48h1M4 49h1M8 49h2M11 49h1M13 49h4M18 49h16M35 49h5M43 49h1M46 49h2M52 49h2M55 49h1M59 49h1M65 49h1M6 50h18M25 50h13M39 50h1M43 50h1M47 50h1M52 50h1M62 50h1M75 50h1M1 51h1M4 51h3M8 51h28M37 51h7M47 51h1M50 51h1M52 51h1M2 52h1M4 52h39M44 52h3M57 52h1M3 53h42M47 53h1M51 53h1M71 53h1M1 54h40M42 54h6M50 54h2M53 54h1M64 54h1M2 55h2M5 55h31M37 55h6M44 55h1M47 55h2M59 55h1M2 56h2M5 56h36M42 56h2M45 56h5M51 56h1M57 56h1M2 57h14M17 57h9M27 57h18M46 57h1M50 57h1M52 57h2M2 58h24M27 58h20M56 58h1M1 59h3M5 59h37M43 59h3M48 59h1M3 60h42M47 60h1M2 61h18M21 61h24M80 61h1M2 62h1M5 62h40M47 62h1M3 63h1M6 63h29M36 63h9M50 63h2M53 63h1M61 63h1M4 64h42M48 64h2M6 65h41M52 65h1M6 66h1M8 66h35M44 66h1M46 66h1M53 66h1M59 66h1M9 67h3M14 67h1M17 67h5M24 67h4M29 67h10M41 67h1M45 67h1M52 67h1" stroke="#949494" stroke-width="1" fill="none" transform="translate(0,0.5)"/></g>
<path d="M80 388.8H174.3" stroke="#2a2a2a" stroke-width="1.2" fill="none"/>
<path d="M174.3 388.8V458.2" stroke="#3a3a3a" stroke-width="0.9" fill="none"/>
<path d="M80 388.2V458.2H174.70000000000002" stroke="#0a0a0a" stroke-width="1.7" fill="none"/>
<path d="M101.5 388.8V458.2M80 432.5H172.3" stroke="#333" stroke-width="1.05" fill="none"/>
<path d="M80.00 458.2v3.2M87.10 458.2v2.1M91.25 458.2v2.1M94.19 458.2v2.1M96.48 458.2v2.1M98.34 458.2v2.1M99.92 458.2v2.1M101.29 458.2v2.1M102.50 458.2v2.1M103.58 458.2v3.2M110.67 458.2v2.1M114.82 458.2v2.1M117.77 458.2v2.1M120.05 458.2v2.1M121.92 458.2v2.1M123.50 458.2v2.1M124.87 458.2v2.1M126.07 458.2v2.1M127.15 458.2v3.2M134.25 458.2v2.1M138.40 458.2v2.1M141.34 458.2v2.1M143.63 458.2v2.1M145.49 458.2v2.1M147.07 458.2v2.1M148.44 458.2v2.1M149.65 458.2v2.1M150.73 458.2v3.2M157.82 458.2v2.1M161.97 458.2v2.1M164.92 458.2v2.1M167.20 458.2v2.1M169.07 458.2v2.1M170.65 458.2v2.1M172.02 458.2v2.1M173.22 458.2v2.1M174.30 458.2v3.2M80 458.20h-3.2M80 452.98h-2.1M80 449.92h-2.1M80 447.75h-2.1M80 446.07h-2.1M80 444.70h-2.1M80 443.54h-2.1M80 442.53h-2.1M80 441.64h-2.1M80 440.85h-3.2M80 435.63h-2.1M80 432.57h-2.1M80 430.40h-2.1M80 428.72h-2.1M80 427.35h-2.1M80 426.19h-2.1M80 425.18h-2.1M80 424.29h-2.1M80 423.50h-3.2M80 418.28h-2.1M80 415.22h-2.1M80 413.05h-2.1M80 411.37h-2.1M80 410.00h-2.1M80 408.84h-2.1M80 407.83h-2.1M80 406.94h-2.1M80 406.15h-3.2M80 400.93h-2.1M80 397.87h-2.1M80 395.70h-2.1M80 394.02h-2.1M80 392.65h-2.1M80 391.49h-2.1M80 390.48h-2.1M80 389.59h-2.1M80 388.80h-3.2" stroke="#000" stroke-width="1" fill="none"/>
<g transform="translate(75.10,471.50) scale(0.92,1)"><text font-size="8" fill="#000" stroke="#000" stroke-width="0.25">10<tspan dy="-3.9" dx="0.6" font-size="8.2">0</tspan></text></g>
<g transform="translate(97.92,471.50) scale(0.92,1)"><text font-size="8" fill="#000" stroke="#000" stroke-width="0.25">10<tspan dy="-3.9" dx="0.6" font-size="8.2">1</tspan></text></g>
<g transform="translate(120.75,471.50) scale(0.92,1)"><text font-size="8" fill="#000" stroke="#000" stroke-width="0.25">10<tspan dy="-3.9" dx="0.6" font-size="8.2">2</tspan></text></g>
<g transform="translate(143.57,471.50) scale(0.92,1)"><text font-size="8" fill="#000" stroke="#000" stroke-width="0.25">10<tspan dy="-3.9" dx="0.6" font-size="8.2">3</tspan></text></g>
<g transform="translate(166.40,471.50) scale(0.92,1)"><text font-size="8" fill="#000" stroke="#000" stroke-width="0.25">10<tspan dy="-3.9" dx="0.6" font-size="8.2">4</tspan></text></g>
<g transform="translate(72.80,463.40) rotate(-90)"><text font-size="8.8" fill="#000" stroke="#000" stroke-width="0.25" transform="scale(0.72,1)">10</text><text x="8.4" y="-5.6" font-size="8.2" fill="#000" stroke="#000" stroke-width="0.25" transform="scale(0.95,1)">0</text></g>
<g transform="translate(72.80,446.32) rotate(-90)"><text font-size="8.8" fill="#000" stroke="#000" stroke-width="0.25" transform="scale(0.72,1)">10</text><text x="8.4" y="-5.6" font-size="8.2" fill="#000" stroke="#000" stroke-width="0.25" transform="scale(0.95,1)">1</text></g>
<g transform="translate(72.80,429.25) rotate(-90)"><text font-size="8.8" fill="#000" stroke="#000" stroke-width="0.25" transform="scale(0.72,1)">10</text><text x="8.4" y="-5.6" font-size="8.2" fill="#000" stroke="#000" stroke-width="0.25" transform="scale(0.95,1)">2</text></g>
<g transform="translate(72.80,412.18) rotate(-90)"><text font-size="8.8" fill="#000" stroke="#000" stroke-width="0.25" transform="scale(0.72,1)">10</text><text x="8.4" y="-5.6" font-size="8.2" fill="#000" stroke="#000" stroke-width="0.25" transform="scale(0.95,1)">3</text></g>
<g transform="translate(72.80,395.10) rotate(-90)"><text font-size="8.8" fill="#000" stroke="#000" stroke-width="0.25" transform="scale(0.72,1)">10</text><text x="8.4" y="-5.6" font-size="8.2" fill="#000" stroke="#000" stroke-width="0.25" transform="scale(0.95,1)">4</text></g>
<g transform="translate(62.00,419.30) rotate(-90) scale(0.84,1)"><text font-size="9" fill="#000" stroke="#000" stroke-width="0.2">PE</text></g>
<g transform="translate(138.00,480.60) scale(0.97,1)"><text font-size="8" fill="#000" stroke="#000" stroke-width="0.2" text-anchor="middle">FITC</text></g>
<text x="169.9" y="400.1" font-size="12.4" font-weight="bold" fill="#111" text-anchor="end">2.1</text>
</g>
<g>
<g transform="translate(224,388)" filter="url(#bl)"><path d="M31 17h1M34 18h1M42 20h1M61 20h1M29 21h1M50 21h1M42 22h1M48 22h1M27 24h1M55 24h2M27 26h1M37 27h1M68 27h1M34 29h1M61 30h1M24 31h1M35 31h1M35 33h1M65 33h1M44 34h1M55 34h1M28 36h1M33 36h1M44 36h1M47 36h1M38 37h1M40 37h2M53 37h1M44 38h1M60 38h1M62 38h1M32 39h1M35 39h1M57 39h1M21 40h2M25 40h1M55 40h1M62 40h1M18 41h1M24 41h1M28 41h1M16 42h1M46 42h1M52 42h1M19 43h1M22 43h1M29 43h1M36 43h1M40 43h1M57 43h1M20 44h1M26 44h1M35 44h2M38 44h1M58 44h1M1 45h1M11 45h1M24 45h1M27 45h1M39 45h1M50 45h1M53 45h1M13 46h1M21 46h1M24 46h3M40 46h1M42 46h2M52 46h1M57 46h1M6 47h2M9 47h1M11 47h1M19 47h7M27 47h1M31 47h1M41 47h1M44 47h2M6 48h4M11 48h4M17 48h2M20 48h1M23 48h2M29 48h1M35 48h1M39 48h1M41 48h1M45 48h1M48 48h1M53 48h1M3 49h1M6 49h1M8 49h1M10 49h1M13 49h1M15 49h5M22 49h2M26 49h2M29 49h1M34 49h1M38 49h1M40 49h1M45 49h1M48 49h2M51 49h1M66 49h1M3 50h3M8 50h1M10 50h1M12 50h2M16 50h1M18 50h1M23 50h4M28 50h3M42 50h1M50 50h2M56 50h1M8 51h2M11 51h3M15 51h4M21 51h5M28 51h3M36 51h1M44 51h2M63 51h1M3 52h1M5 52h1M7 52h2M10 52h2M13 52h6M21 52h4M26 52h4M31 52h1M33 52h2M36 52h1M38 52h2M41 52h1M47 52h1M1 53h10M12 53h1M15 53h3M19 53h1M21 53h9M31 53h3M36 53h1M38 53h3M43 53h1M50 53h1M1 54h4M6 54h4M14 54h2M17 54h2M21 54h6M35 54h2M38 54h1M2 55h3M6 55h4M11 55h2M14 55h4M19 55h10M31 55h1M33 55h3M44 55h2M52 55h1M70 55h1M2 56h1M4 56h2M7 56h4M12 56h10M24 56h6M31 56h2M34 56h2M41 56h1M45 56h1M48 56h1M1 57h4M6 57h8M15 57h2M19 57h5M25 57h1M27 57h1M29 57h1M37 57h1M2 58h1M5 58h2M8 58h2M11 58h1M13 58h5M19 58h1M21 58h2M25 58h3M29 58h1M31 58h4M36 58h2M68 58h1M1 59h3M5 59h2M8 59h2M12 59h1M14 59h4M19 59h9M29 59h1M31 59h2M35 59h1M37 59h2M42 59h1M45 59h2M51 59h1M58 59h1M1 60h6M8 60h7M16 60h13M30 60h2M34 60h1M38 60h1M40 60h1M43 60h1M49 60h2M2 61h2M5 61h9M15 61h5M21 61h2M24 61h3M29 61h1M32 61h1M39 61h2M42 61h2M2 62h1M4 62h5M11 62h12M24 62h9M35 62h1M40 62h1M3 63h2M7 63h9M17 63h1M19 63h7M27 63h2M30 63h1M36 63h1M54 63h1M59 63h1M1 64h2M4 64h4M9 64h1M11 64h5M17 64h3M21 64h2M25 64h1M27 64h1M30 64h1M32 64h1M3 65h1M10 65h2M13 65h3M18 65h2M21 65h2M24 65h1M26 65h1M31 65h1M37 65h1M3 66h1M6 66h1M8 66h3M12 66h1M14 66h2M17 66h3M21 66h3M26 66h1M29 66h1M36 66h1M40 66h1M51 66h1M5 67h2M12 67h2M15 67h2M20 67h1M22 67h5M34 67h1M46 67h1M2 68h1M7 68h1M11 68h1M14 68h1M17 68h1M19 68h1M22 68h1M29 68h1M36 68h1M40 68h1" stroke="#949494" stroke-width="1" fill="none" transform="translate(0,0.5)"/></g>
<path d="M224.2 388.4H318.7" stroke="#2a2a2a" stroke-width="1.2" fill="none"/>
<path d="M318.7 388.4V458" stroke="#3a3a3a" stroke-width="0.9" fill="none"/>
<path d="M224.2 387.79999999999995V458H319.09999999999997" stroke="#0a0a0a" stroke-width="1.7" fill="none"/>
<path d="M245.5 388.4V458M224.2 432.5H316.7" stroke="#333" stroke-width="1.05" fill="none"/>
<path d="M224.20 458v3.2M231.31 458v2.1M235.47 458v2.1M238.42 458v2.1M240.71 458v2.1M242.58 458v2.1M244.17 458v2.1M245.54 458v2.1M246.74 458v2.1M247.82 458v3.2M254.94 458v2.1M259.10 458v2.1M262.05 458v2.1M264.34 458v2.1M266.21 458v2.1M267.79 458v2.1M269.16 458v2.1M270.37 458v2.1M271.45 458v3.2M278.56 458v2.1M282.72 458v2.1M285.67 458v2.1M287.96 458v2.1M289.83 458v2.1M291.42 458v2.1M292.79 458v2.1M293.99 458v2.1M295.07 458v3.2M302.19 458v2.1M306.35 458v2.1M309.30 458v2.1M311.59 458v2.1M313.46 458v2.1M315.04 458v2.1M316.41 458v2.1M317.62 458v2.1M318.70 458v3.2M224.2 458.00h-3.2M224.2 452.76h-2.1M224.2 449.70h-2.1M224.2 447.52h-2.1M224.2 445.84h-2.1M224.2 444.46h-2.1M224.2 443.30h-2.1M224.2 442.29h-2.1M224.2 441.40h-2.1M224.2 440.60h-3.2M224.2 435.36h-2.1M224.2 432.30h-2.1M224.2 430.12h-2.1M224.2 428.44h-2.1M224.2 427.06h-2.1M224.2 425.90h-2.1M224.2 424.89h-2.1M224.2 424.00h-2.1M224.2 423.20h-3.2M224.2 417.96h-2.1M224.2 414.90h-2.1M224.2 412.72h-2.1M224.2 411.04h-2.1M224.2 409.66h-2.1M224.2 408.50h-2.1M224.2 407.49h-2.1M224.2 406.60h-2.1M224.2 405.80h-3.2M224.2 400.56h-2.1M224.2 397.50h-2.1M224.2 395.32h-2.1M224.2 393.64h-2.1M224.2 392.26h-2.1M224.2 391.10h-2.1M224.2 390.09h-2.1M224.2 389.20h-2.1M224.2 388.40h-3.2" stroke="#000" stroke-width="1" fill="none"/>
<g transform="translate(219.30,471.30) scale(0.92,1)"><text font-size="8" fill="#000" stroke="#000" stroke-width="0.25">10<tspan dy="-3.9" dx="0.6" font-size="8.2">0</tspan></text></g>
<g transform="translate(242.17,471.30) scale(0.92,1)"><text font-size="8" fill="#000" stroke="#000" stroke-width="0.25">10<tspan dy="-3.9" dx="0.6" font-size="8.2">1</tspan></text></g>
<g transform="translate(265.05,471.30) scale(0.92,1)"><text font-size="8" fill="#000" stroke="#000" stroke-width="0.25">10<tspan dy="-3.9" dx="0.6" font-size="8.2">2</tspan></text></g>
<g transform="translate(287.92,471.30) scale(0.92,1)"><text font-size="8" fill="#000" stroke="#000" stroke-width="0.25">10<tspan dy="-3.9" dx="0.6" font-size="8.2">3</tspan></text></g>
<g transform="translate(310.80,471.30) scale(0.92,1)"><text font-size="8" fill="#000" stroke="#000" stroke-width="0.25">10<tspan dy="-3.9" dx="0.6" font-size="8.2">4</tspan></text></g>
<g transform="translate(217.00,463.20) rotate(-90)"><text font-size="8.8" fill="#000" stroke="#000" stroke-width="0.25" transform="scale(0.72,1)">10</text><text x="8.4" y="-5.6" font-size="8.2" fill="#000" stroke="#000" stroke-width="0.25" transform="scale(0.95,1)">0</text></g>
<g transform="translate(217.00,446.07) rotate(-90)"><text font-size="8.8" fill="#000" stroke="#000" stroke-width="0.25" transform="scale(0.72,1)">10</text><text x="8.4" y="-5.6" font-size="8.2" fill="#000" stroke="#000" stroke-width="0.25" transform="scale(0.95,1)">1</text></g>
<g transform="translate(217.00,428.95) rotate(-90)"><text font-size="8.8" fill="#000" stroke="#000" stroke-width="0.25" transform="scale(0.72,1)">10</text><text x="8.4" y="-5.6" font-size="8.2" fill="#000" stroke="#000" stroke-width="0.25" transform="scale(0.95,1)">2</text></g>
<g transform="translate(217.00,411.82) rotate(-90)"><text font-size="8.8" fill="#000" stroke="#000" stroke-width="0.25" transform="scale(0.72,1)">10</text><text x="8.4" y="-5.6" font-size="8.2" fill="#000" stroke="#000" stroke-width="0.25" transform="scale(0.95,1)">3</text></g>
<g transform="translate(217.00,394.70) rotate(-90)"><text font-size="8.8" fill="#000" stroke="#000" stroke-width="0.25" transform="scale(0.72,1)">10</text><text x="8.4" y="-5.6" font-size="8.2" fill="#000" stroke="#000" stroke-width="0.25" transform="scale(0.95,1)">4</text></g>
<g transform="translate(206.20,418.90) rotate(-90) scale(0.84,1)"><text font-size="9" fill="#000" stroke="#000" stroke-width="0.2">PE</text></g>
<g transform="translate(282.20,480.40) scale(0.97,1)"><text font-size="8" fill="#000" stroke="#000" stroke-width="0.2" text-anchor="middle">FITC</text></g>
<text x="315.4" y="400.8" font-size="12.4" font-weight="bold" fill="#111" text-anchor="end">2.8</text>
</g>
<g>
<g transform="translate(363,389)" filter="url(#bl)"><path d="M62 23h1M47 25h1M51 25h1M20 39h1M28 41h1M26 42h1M44 42h1M21 43h2M27 44h1M31 44h1M67 44h1M17 45h1M32 45h1M35 45h2M38 45h1M46 45h1M56 45h1M27 46h1M31 46h1M28 47h1M43 47h3M47 47h1M14 48h1M21 48h1M23 48h1M28 48h4M34 48h2M44 48h1M49 48h1M51 48h2M9 49h1M15 49h1M20 49h1M22 49h1M27 49h3M32 49h1M39 49h1M42 49h2M46 49h1M52 49h1M78 49h1M10 50h2M19 50h1M21 50h3M25 50h2M28 50h9M38 50h3M47 50h1M61 50h1M67 50h1M6 51h1M12 51h1M15 51h1M20 51h1M22 51h2M25 51h2M28 51h1M30 51h10M50 51h2M56 51h1M59 51h2M64 51h1M81 51h1M4 52h1M10 52h1M13 52h2M18 52h1M20 52h3M24 52h17M42 52h2M45 52h2M49 52h2M59 52h1M64 52h2M72 52h1M10 53h1M12 53h1M15 53h2M19 53h1M21 53h19M41 53h4M51 53h1M56 53h1M59 53h1M61 53h1M12 54h5M18 54h1M20 54h21M43 54h2M46 54h1M48 54h1M50 54h1M62 54h1M6 55h1M10 55h1M12 55h1M14 55h2M17 55h1M19 55h24M45 55h1M47 55h1M49 55h1M57 55h1M60 55h2M73 55h1M14 56h32M47 56h1M50 56h1M52 56h2M59 56h1M69 56h1M8 57h3M12 57h1M14 57h2M18 57h29M50 57h2M61 57h2M70 57h1M4 58h1M7 58h2M10 58h3M15 58h30M46 58h2M50 58h1M53 58h1M55 58h1M59 58h1M61 58h1M63 58h1M69 58h1M8 59h1M12 59h3M17 59h1M19 59h9M29 59h18M49 59h1M51 59h1M54 59h1M56 59h1M60 59h2M66 59h2M76 59h1M6 60h1M8 60h1M10 60h2M13 60h2M16 60h1M18 60h3M22 60h24M48 60h1M50 60h1M52 60h2M55 60h1M57 60h2M68 60h1M76 60h1M4 61h2M8 61h1M13 61h4M18 61h28M47 61h2M50 61h4M56 61h4M65 61h1M7 62h2M11 62h2M15 62h1M17 62h2M20 62h1M22 62h22M46 62h3M50 62h6M60 62h1M72 62h1M4 63h2M9 63h1M12 63h1M17 63h2M20 63h5M26 63h17M44 63h3M48 63h1M50 63h1M56 63h1M61 63h2M68 63h1M72 63h1M2 64h1M9 64h1M14 64h1M20 64h22M44 64h1M47 64h2M51 64h3M55 64h1M58 64h1M60 64h1M11 65h4M16 65h1M18 65h4M23 65h19M43 65h2M46 65h1M48 65h1M52 65h1M55 65h1M64 65h1M5 66h2M8 66h1M17 66h2M22 66h20M47 66h2M56 66h1M64 66h1M8 67h1M13 67h3M21 67h18M40 67h5M46 67h2M54 67h2M61 67h1M63 67h1M73 67h1M8 68h1M24 68h2M28 68h3M32 68h3M36 68h6M44 68h1M66 68h1" stroke="#949494" stroke-width="1" fill="none" transform="translate(0,0.5)"/></g>
<path d="M362.9 389.4H457.2" stroke="#2a2a2a" stroke-width="1.2" fill="none"/>
<path d="M457.2 389.4V459.3" stroke="#3a3a3a" stroke-width="0.9" fill="none"/>
<path d="M362.9 388.79999999999995V459.3H457.59999999999997" stroke="#0a0a0a" stroke-width="1.7" fill="none"/>
<path d="M385.5 389.4V459.3M362.9 433.5H455.2" stroke="#333" stroke-width="1.05" fill="none"/>
<path d="M362.90 459.3v3.2M370.00 459.3v2.1M374.15 459.3v2.1M377.09 459.3v2.1M379.38 459.3v2.1M381.24 459.3v2.1M382.82 459.3v2.1M384.19 459.3v2.1M385.40 459.3v2.1M386.47 459.3v3.2M393.57 459.3v2.1M397.72 459.3v2.1M400.67 459.3v2.1M402.95 459.3v2.1M404.82 459.3v2.1M406.40 459.3v2.1M407.77 459.3v2.1M408.97 459.3v2.1M410.05 459.3v3.2M417.15 459.3v2.1M421.30 459.3v2.1M424.24 459.3v2.1M426.53 459.3v2.1M428.39 459.3v2.1M429.97 459.3v2.1M431.34 459.3v2.1M432.55 459.3v2.1M433.62 459.3v3.2M440.72 459.3v2.1M444.87 459.3v2.1M447.82 459.3v2.1M450.10 459.3v2.1M451.97 459.3v2.1M453.55 459.3v2.1M454.92 459.3v2.1M456.12 459.3v2.1M457.20 459.3v3.2M362.9 459.30h-3.2M362.9 454.04h-2.1M362.9 450.96h-2.1M362.9 448.78h-2.1M362.9 447.09h-2.1M362.9 445.70h-2.1M362.9 444.53h-2.1M362.9 443.52h-2.1M362.9 442.62h-2.1M362.9 441.82h-3.2M362.9 436.56h-2.1M362.9 433.49h-2.1M362.9 431.30h-2.1M362.9 429.61h-2.1M362.9 428.23h-2.1M362.9 427.06h-2.1M362.9 426.04h-2.1M362.9 425.15h-2.1M362.9 424.35h-3.2M362.9 419.09h-2.1M362.9 416.01h-2.1M362.9 413.83h-2.1M362.9 412.14h-2.1M362.9 410.75h-2.1M362.9 409.58h-2.1M362.9 408.57h-2.1M362.9 407.67h-2.1M362.9 406.88h-3.2M362.9 401.61h-2.1M362.9 398.54h-2.1M362.9 396.35h-2.1M362.9 394.66h-2.1M362.9 393.28h-2.1M362.9 392.11h-2.1M362.9 391.09h-2.1M362.9 390.20h-2.1M362.9 389.40h-3.2" stroke="#000" stroke-width="1" fill="none"/>
<g transform="translate(358.00,472.60) scale(0.92,1)"><text font-size="8" fill="#000" stroke="#000" stroke-width="0.25">10<tspan dy="-3.9" dx="0.6" font-size="8.2">0</tspan></text></g>
<g transform="translate(380.82,472.60) scale(0.92,1)"><text font-size="8" fill="#000" stroke="#000" stroke-width="0.25">10<tspan dy="-3.9" dx="0.6" font-size="8.2">1</tspan></text></g>
<g transform="translate(403.65,472.60) scale(0.92,1)"><text font-size="8" fill="#000" stroke="#000" stroke-width="0.25">10<tspan dy="-3.9" dx="0.6" font-size="8.2">2</tspan></text></g>
<g transform="translate(426.48,472.60) scale(0.92,1)"><text font-size="8" fill="#000" stroke="#000" stroke-width="0.25">10<tspan dy="-3.9" dx="0.6" font-size="8.2">3</tspan></text></g>
<g transform="translate(449.30,472.60) scale(0.92,1)"><text font-size="8" fill="#000" stroke="#000" stroke-width="0.25">10<tspan dy="-3.9" dx="0.6" font-size="8.2">4</tspan></text></g>
<g transform="translate(355.70,464.50) rotate(-90)"><text font-size="8.8" fill="#000" stroke="#000" stroke-width="0.25" transform="scale(0.72,1)">10</text><text x="8.4" y="-5.6" font-size="8.2" fill="#000" stroke="#000" stroke-width="0.25" transform="scale(0.95,1)">0</text></g>
<g transform="translate(355.70,447.30) rotate(-90)"><text font-size="8.8" fill="#000" stroke="#000" stroke-width="0.25" transform="scale(0.72,1)">10</text><text x="8.4" y="-5.6" font-size="8.2" fill="#000" stroke="#000" stroke-width="0.25" transform="scale(0.95,1)">1</text></g>
<g transform="translate(355.70,430.10) rotate(-90)"><text font-size="8.8" fill="#000" stroke="#000" stroke-width="0.25" transform="scale(0.72,1)">10</text><text x="8.4" y="-5.6" font-size="8.2" fill="#000" stroke="#000" stroke-width="0.25" transform="scale(0.95,1)">2</text></g>
<g transform="translate(355.70,412.90) rotate(-90)"><text font-size="8.8" fill="#000" stroke="#000" stroke-width="0.25" transform="scale(0.72,1)">10</text><text x="8.4" y="-5.6" font-size="8.2" fill="#000" stroke="#000" stroke-width="0.25" transform="scale(0.95,1)">3</text></g>
<g transform="translate(355.70,395.70) rotate(-90)"><text font-size="8.8" fill="#000" stroke="#000" stroke-width="0.25" transform="scale(0.72,1)">10</text><text x="8.4" y="-5.6" font-size="8.2" fill="#000" stroke="#000" stroke-width="0.25" transform="scale(0.95,1)">4</text></g>
<g transform="translate(344.90,419.90) rotate(-90) scale(0.84,1)"><text font-size="9" fill="#000" stroke="#000" stroke-width="0.2">PE</text></g>
<g transform="translate(420.90,481.70) scale(0.97,1)"><text font-size="8" fill="#000" stroke="#000" stroke-width="0.2" text-anchor="middle">FITC</text></g>
<text x="452.4" y="402.1" font-size="12.4" font-weight="bold" fill="#111" text-anchor="end">0.1</text>
</g>
<path d="M99.2 566.7H469.4V762.7" stroke="#888" stroke-width="0.9" fill="none"/>
<path d="M99.2 566.7V766.7M99.2 762.70h-5.4M99.2 757.10h-3.6M99.2 751.50h-3.6M99.2 745.90h-3.6M99.2 740.30h-3.6M99.2 734.70h-5.4M99.2 729.10h-3.6M99.2 723.50h-3.6M99.2 717.90h-3.6M99.2 712.30h-3.6M99.2 706.70h-5.4M99.2 701.10h-3.6M99.2 695.50h-3.6M99.2 689.90h-3.6M99.2 684.30h-3.6M99.2 678.70h-5.4M99.2 673.10h-3.6M99.2 667.50h-3.6M99.2 661.90h-3.6M99.2 656.30h-3.6M99.2 650.70h-5.4M99.2 645.10h-3.6M99.2 639.50h-3.6M99.2 633.90h-3.6M99.2 628.30h-3.6M99.2 622.70h-5.4M99.2 617.10h-3.6M99.2 611.50h-3.6M99.2 605.90h-3.6M99.2 600.30h-3.6M99.2 594.70h-5.4M99.2 589.10h-3.6M99.2 583.50h-3.6M99.2 577.90h-3.6M99.2 572.30h-3.6M99.2 566.70h-5.4" stroke="#444" stroke-width="0.9" fill="none"/>
<g transform="translate(87.2,767.60) scale(1.1,1)"><text font-size="14.1" text-anchor="end" fill="#1a1a1a">0.0</text></g>
<g transform="translate(87.2,739.60) scale(1.1,1)"><text font-size="14.1" text-anchor="end" fill="#1a1a1a">0.5</text></g>
<g transform="translate(87.2,711.60) scale(1.1,1)"><text font-size="14.1" text-anchor="end" fill="#1a1a1a">1.0</text></g>
<g transform="translate(87.2,683.60) scale(1.1,1)"><text font-size="14.1" text-anchor="end" fill="#1a1a1a">1.5</text></g>
<g transform="translate(87.2,655.60) scale(1.1,1)"><text font-size="14.1" text-anchor="end" fill="#1a1a1a">2.0</text></g>
<g transform="translate(87.2,627.60) scale(1.1,1)"><text font-size="14.1" text-anchor="end" fill="#1a1a1a">2.5</text></g>
<g transform="translate(87.2,599.60) scale(1.1,1)"><text font-size="14.1" text-anchor="end" fill="#1a1a1a">3.0</text></g>
<g transform="translate(87.2,571.60) scale(1.1,1)"><text font-size="14.1" text-anchor="end" fill="#1a1a1a">3.5</text></g>
<path d="M93.8 762.7H469.4M99.20 762.7v4M191.75 762.7v4M284.30 762.7v4M376.85 762.7v4M469.40 762.7v4" stroke="#333" stroke-width="1" fill="none"/>
<rect x="118.7" y="655.6" width="26.700000000000003" height="107.10000000000002" fill="#000"/>
<rect x="145.9" y="711.3" width="25.5" height="51.40000000000009" fill="#fff" stroke="#111" stroke-width="1"/>
<path d="M132.05 655.6V601.2M130.85000000000002 601.2h2.4" stroke="#222" stroke-width="0.9" fill="none"/>
<path d="M158.65 710.8V665.8M157.45000000000002 665.8h2.4" stroke="#222" stroke-width="0.9" fill="none"/>
<rect x="211.2" y="752.3" width="26.5" height="10.400000000000091" fill="#000"/>
<rect x="238.2" y="757.7" width="25.30000000000001" height="5.0" fill="#fff" stroke="#111" stroke-width="1"/>
<path d="M224.45 752.3V742.3M223.25 742.3h2.4" stroke="#222" stroke-width="0.9" fill="none"/>
<path d="M250.85 757.2V751.5M249.65 751.5h2.4" stroke="#222" stroke-width="0.9" fill="none"/>
<rect x="304.2" y="732.7" width="26.19999999999999" height="30.0" fill="#000"/>
<rect x="330.9" y="751.7" width="25.0" height="11.0" fill="#fff" stroke="#111" stroke-width="1"/>
<path d="M317.29999999999995 732.7V717.3M316.09999999999997 717.3h2.4" stroke="#222" stroke-width="0.9" fill="none"/>
<path d="M343.4 751.2V746.2M342.2 746.2h2.4" stroke="#222" stroke-width="0.9" fill="none"/>
<rect x="396.2" y="743.3" width="26.400000000000034" height="19.40000000000009" fill="#000"/>
<rect x="423.1" y="752.5" width="25.899999999999977" height="10.200000000000045" fill="#fff" stroke="#111" stroke-width="1"/>
<path d="M409.4 743.3V736.3M408.2 736.3h2.4" stroke="#222" stroke-width="0.9" fill="none"/>
<path d="M436.05 752V741.7M434.85 741.7h2.4" stroke="#222" stroke-width="0.9" fill="none"/>
<text x="157.8" y="653.9" font-size="26" font-weight="bold" text-anchor="middle" fill="#111">*</text>
<text x="343.8" y="736.3" font-size="26" font-weight="bold" text-anchor="middle" fill="#111">*</text>
<text x="436" y="735.9" font-size="26" font-weight="bold" text-anchor="middle" fill="#111">*</text>
<text x="144.88" y="786.3" font-size="12" font-weight="normal" text-anchor="middle" fill="#222" >B220+</text>
<text x="237.42" y="786.3" font-size="12" font-weight="normal" text-anchor="middle" fill="#222" >B220+CD43+</text>
<text x="329.97" y="786.3" font-size="12" font-weight="normal" text-anchor="middle" fill="#222" >B220+IgM+</text>
<text x="422.52" y="786.3" font-size="12" font-weight="normal" text-anchor="middle" fill="#222" >IgM+IgD+</text>
<text transform="translate(56.2,741) rotate(-90)" font-size="14.3" letter-spacing="0.3" font-weight="bold" fill="#111">Cells per femur (x10<tspan dy="-8" font-size="9.5">6</tspan><tspan dy="8">)</tspan></text>
<path d="M82.3 868.3H266.2V1058.3" stroke="#888" stroke-width="0.9" fill="none"/>
<path d="M82.3 868.3V1062.3M82.3 1058.30h-5.4M82.3 1051.97h-3.6M82.3 1045.63h-3.6M82.3 1039.30h-3.6M82.3 1032.97h-3.6M82.3 1026.63h-5.4M82.3 1020.30h-3.6M82.3 1013.97h-3.6M82.3 1007.63h-3.6M82.3 1001.30h-3.6M82.3 994.97h-5.4M82.3 988.63h-3.6M82.3 982.30h-3.6M82.3 975.97h-3.6M82.3 969.63h-3.6M82.3 963.30h-5.4M82.3 956.97h-3.6M82.3 950.63h-3.6M82.3 944.30h-3.6M82.3 937.97h-3.6M82.3 931.63h-5.4M82.3 925.30h-3.6M82.3 918.97h-3.6M82.3 912.63h-3.6M82.3 906.30h-3.6M82.3 899.97h-5.4M82.3 893.63h-3.6M82.3 887.30h-3.6M82.3 880.97h-3.6M82.3 874.63h-3.6M82.3 868.30h-5.4" stroke="#444" stroke-width="0.9" fill="none"/>
<g transform="translate(72,1063.20) scale(1.08,1)"><text font-size="13.6" text-anchor="end" fill="#1a1a1a">0</text></g>
<g transform="translate(72,1031.53) scale(1.08,1)"><text font-size="13.6" text-anchor="end" fill="#1a1a1a">50</text></g>
<g transform="translate(72,999.87) scale(1.08,1)"><text font-size="13.6" text-anchor="end" fill="#1a1a1a">100</text></g>
<g transform="translate(72,968.20) scale(1.08,1)"><text font-size="13.6" text-anchor="end" fill="#1a1a1a">150</text></g>
<g transform="translate(72,936.53) scale(1.08,1)"><text font-size="13.6" text-anchor="end" fill="#1a1a1a">200</text></g>
<g transform="translate(72,904.87) scale(1.08,1)"><text font-size="13.6" text-anchor="end" fill="#1a1a1a">250</text></g>
<g transform="translate(72,873.20) scale(1.08,1)"><text font-size="13.6" text-anchor="end" fill="#1a1a1a">300</text></g>
<path d="M76.89999999999999 1058.3H266.2M82.30 1058.3v3.5M174.25 1058.3v3.5M266.20 1058.3v3.5" stroke="#333" stroke-width="1" fill="none"/>
<rect x="102.6" y="943.5" width="26.0" height="114.79999999999995" fill="#000"/>
<rect x="129.1" y="974.0" width="25.0" height="84.29999999999995" fill="#fff" stroke="#111" stroke-width="1"/>
<path d="M115.6 943.5V890.9M114.39999999999999 890.9h2.4" stroke="#222" stroke-width="0.9" fill="none"/>
<path d="M141.6 973.5V937M140.4 937h2.4" stroke="#222" stroke-width="0.9" fill="none"/>
<rect x="194.3" y="978.6" width="26.099999999999994" height="79.69999999999993" fill="#000"/>
<rect x="220.9" y="1010.3" width="25.099999999999994" height="48.0" fill="#fff" stroke="#111" stroke-width="1"/>
<path d="M207.35000000000002 978.6V927.1M206.15000000000003 927.1h2.4" stroke="#222" stroke-width="0.9" fill="none"/>
<path d="M233.45 1009.8V991.5M232.25 991.5h2.4" stroke="#222" stroke-width="0.9" fill="none"/>
<text x="128.6" y="1081.1" font-size="12" font-weight="normal" text-anchor="middle" fill="#222" >B220+</text>
<text x="220.4" y="1081.1" font-size="12" font-weight="normal" text-anchor="middle" fill="#222" >IgM+IgD+</text>
<text transform="translate(37.4,1032) rotate(-90)" font-size="12.8" font-weight="bold" fill="#111">Cells per spleen (x10<tspan dy="-6.6" font-size="9">6</tspan><tspan dy="6.6">)</tspan></text>
<path d="M365.1 873.5V1071M365.1 1067.00h-5.4M365.1 1060.55h-3.6M365.1 1054.10h-3.6M365.1 1047.65h-3.6M365.1 1041.20h-3.6M365.1 1034.75h-5.4M365.1 1028.30h-3.6M365.1 1021.85h-3.6M365.1 1015.40h-3.6M365.1 1008.95h-3.6M365.1 1002.50h-5.4M365.1 996.05h-3.6M365.1 989.60h-3.6M365.1 983.15h-3.6M365.1 976.70h-3.6M365.1 970.25h-5.4M365.1 963.80h-3.6M365.1 957.35h-3.6M365.1 950.90h-3.6M365.1 944.45h-3.6M365.1 938.00h-5.4M365.1 931.55h-3.6M365.1 925.10h-3.6M365.1 918.65h-3.6M365.1 912.20h-3.6M365.1 905.75h-5.4M365.1 899.30h-3.6M365.1 892.85h-3.6M365.1 886.40h-3.6M365.1 879.95h-3.6M365.1 873.50h-5.4" stroke="#444" stroke-width="0.9" fill="none"/>
<g transform="translate(355,1071.90) scale(1.08,1)"><text font-size="13.6" text-anchor="end" fill="#1a1a1a">0</text></g>
<g transform="translate(355,1039.65) scale(1.08,1)"><text font-size="13.6" text-anchor="end" fill="#1a1a1a">5</text></g>
<g transform="translate(355,1007.40) scale(1.08,1)"><text font-size="13.6" text-anchor="end" fill="#1a1a1a">10</text></g>
<g transform="translate(355,975.15) scale(1.08,1)"><text font-size="13.6" text-anchor="end" fill="#1a1a1a">15</text></g>
<g transform="translate(355,942.90) scale(1.08,1)"><text font-size="13.6" text-anchor="end" fill="#1a1a1a">20</text></g>
<g transform="translate(355,910.65) scale(1.08,1)"><text font-size="13.6" text-anchor="end" fill="#1a1a1a">25</text></g>
<g transform="translate(355,878.40) scale(1.08,1)"><text font-size="13.6" text-anchor="end" fill="#1a1a1a">30</text></g>
<path d="M360.1 1067H502.5" stroke="#333" stroke-width="1" fill="none"/>
<rect x="393.8" y="959.8" width="39.80000000000001" height="107.20000000000005" fill="#000"/>
<rect x="434.1" y="1054.3" width="38.39999999999998" height="12.700000000000045" fill="#fff" stroke="#111" stroke-width="1"/>
<path d="M413.5 959.8V897.7M412.3 897.7h2.4" stroke="#222" stroke-width="0.9" fill="none"/>
<path d="M453 1053.8V1034M451.8 1034h2.4" stroke="#222" stroke-width="0.9" fill="none"/>
<text x="452.4" y="1022.5" font-size="26" font-weight="bold" text-anchor="middle" fill="#111">*</text>
<text x="433.2" y="1082" font-size="13.6" font-weight="bold" text-anchor="middle" fill="#111" >CFU-IL7</text>
<text transform="translate(327.8,1062.4) rotate(-90)" font-size="13.75" font-weight="bold" fill="#111">Progenitors per femur (x10<tspan dy="-6.6" font-size="9">3</tspan><tspan dy="6.6">)</tspan></text>
<rect x="457.8" y="816.8" width="13" height="12.5" fill="#000"/>
<rect x="458.4" y="844.2" width="12" height="11.6" fill="#fff" stroke="#666" stroke-width="1.1"/>
<text x="481" y="829.4" font-size="20.7" font-weight="normal" text-anchor="start" fill="#111" >wt</text>
<text x="479.8" y="856.6" font-size="20.7" font-weight="normal" text-anchor="start" fill="#111" >mut</text>
</svg></body></html>
